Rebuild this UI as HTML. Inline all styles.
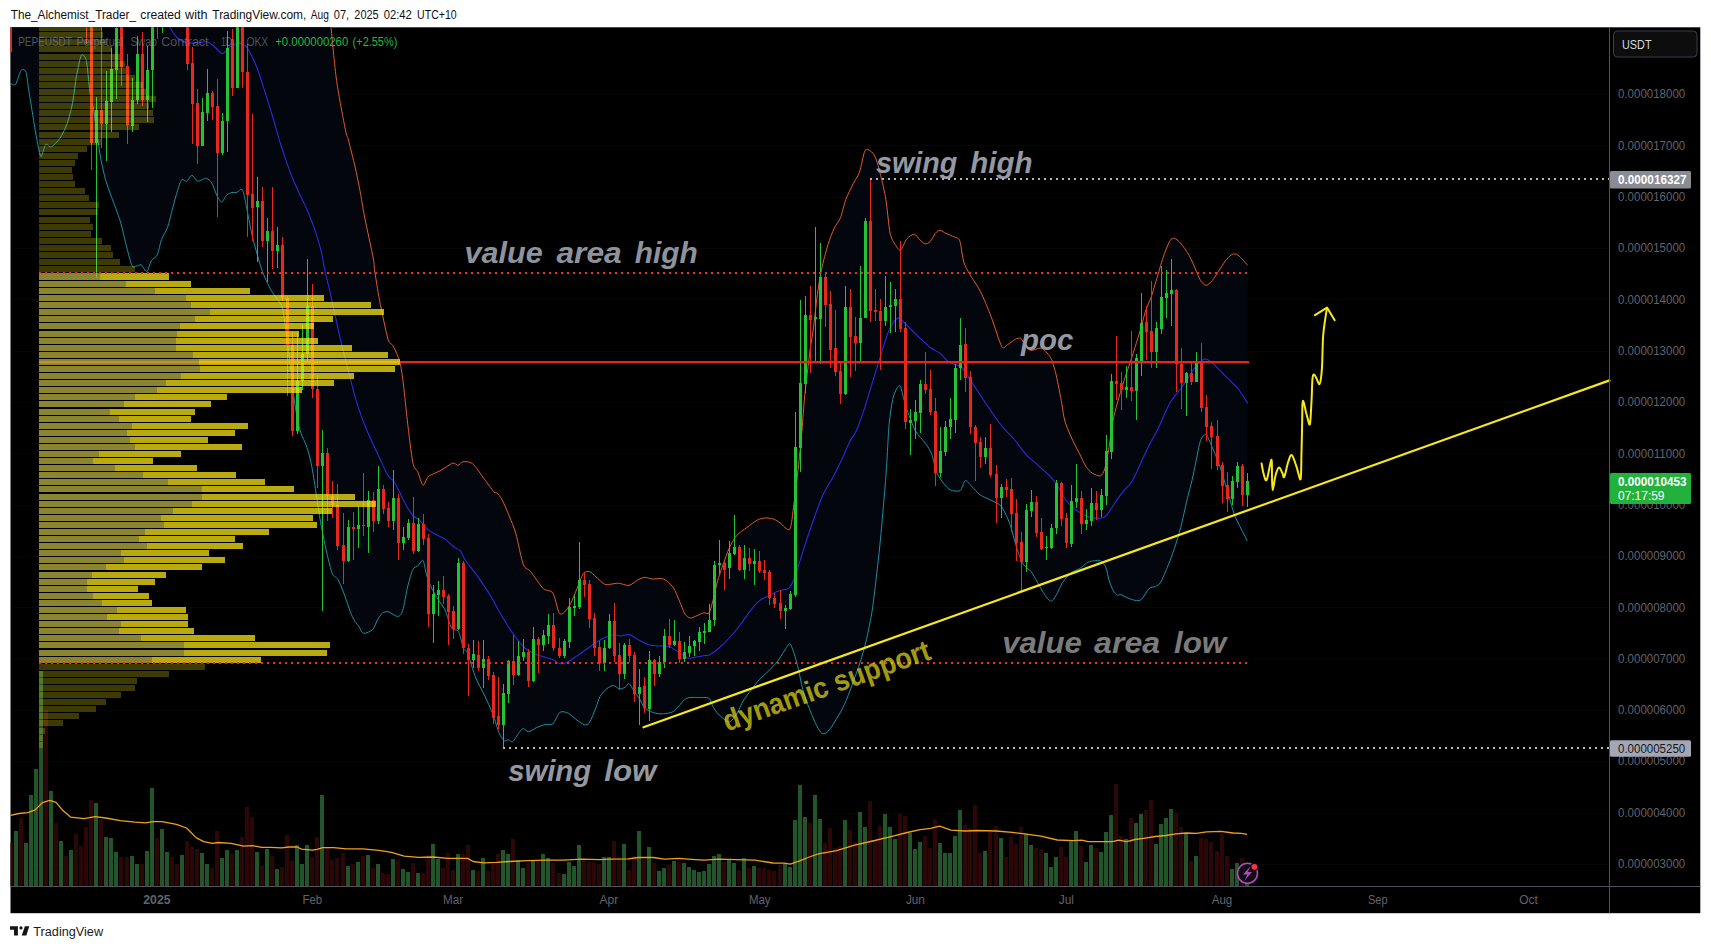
<!DOCTYPE html><html><head><meta charset="utf-8"><title>PEPEUSDT chart</title><style>html,body{margin:0;padding:0;background:#fff;overflow:hidden}body{width:1711px;height:949px}</style></head><body><svg width="1711" height="949" viewBox="0 0 1711 949" style="display:block;font-family:'Liberation Sans',sans-serif">
<rect width="1711" height="949" fill="#fff"/>
<rect x="10.5" y="27.3" width="1689.8" height="885.9000000000001" fill="#000"/>
<defs><clipPath id="pane"><rect x="10.5" y="27.3" width="1599.0" height="859.2"/></clipPath></defs>
<g clip-path="url(#pane)">
<rect x="10.5" y="94" width="1599.0" height="1" fill="#fff" opacity="0.022"/>
<rect x="10.5" y="145" width="1599.0" height="1" fill="#fff" opacity="0.022"/>
<rect x="10.5" y="197" width="1599.0" height="1" fill="#fff" opacity="0.022"/>
<rect x="10.5" y="248" width="1599.0" height="1" fill="#fff" opacity="0.022"/>
<rect x="10.5" y="299" width="1599.0" height="1" fill="#fff" opacity="0.022"/>
<rect x="10.5" y="351" width="1599.0" height="1" fill="#fff" opacity="0.022"/>
<rect x="10.5" y="402" width="1599.0" height="1" fill="#fff" opacity="0.022"/>
<rect x="10.5" y="453" width="1599.0" height="1" fill="#fff" opacity="0.022"/>
<rect x="10.5" y="505" width="1599.0" height="1" fill="#fff" opacity="0.022"/>
<rect x="10.5" y="556" width="1599.0" height="1" fill="#fff" opacity="0.022"/>
<rect x="10.5" y="607" width="1599.0" height="1" fill="#fff" opacity="0.022"/>
<rect x="10.5" y="659" width="1599.0" height="1" fill="#fff" opacity="0.022"/>
<rect x="10.5" y="710" width="1599.0" height="1" fill="#fff" opacity="0.022"/>
<rect x="10.5" y="761" width="1599.0" height="1" fill="#fff" opacity="0.022"/>
<rect x="10.5" y="813" width="1599.0" height="1" fill="#fff" opacity="0.022"/>
<rect x="10.5" y="864" width="1599.0" height="1" fill="#fff" opacity="0.022"/>
<g shape-rendering="crispEdges">
<rect x="9" y="843" width="4" height="43" fill="#2c0707"/>
<rect x="14" y="831" width="4" height="55" fill="#22552a"/>
<rect x="19" y="818" width="4" height="68" fill="#2c0707"/>
<rect x="24" y="843" width="4" height="43" fill="#22552a"/>
<rect x="29" y="795" width="4" height="91" fill="#22552a"/>
<rect x="34" y="769" width="4" height="117" fill="#22552a"/>
<rect x="39" y="671" width="4" height="215" fill="#22552a"/>
<rect x="44" y="710" width="4" height="176" fill="#2c0707"/>
<rect x="49" y="791" width="4" height="95" fill="#22552a"/>
<rect x="54" y="823" width="4" height="63" fill="#2c0707"/>
<rect x="59" y="841" width="4" height="45" fill="#22552a"/>
<rect x="64" y="856" width="4" height="30" fill="#2c0707"/>
<rect x="69" y="850" width="4" height="36" fill="#22552a"/>
<rect x="74" y="834" width="4" height="52" fill="#2c0707"/>
<rect x="79" y="846" width="4" height="40" fill="#2c0707"/>
<rect x="84" y="827" width="4" height="59" fill="#2c0707"/>
<rect x="89" y="800" width="4" height="86" fill="#2c0707"/>
<rect x="94" y="803" width="4" height="83" fill="#22552a"/>
<rect x="99" y="819" width="4" height="67" fill="#2c0707"/>
<rect x="104" y="837" width="4" height="49" fill="#22552a"/>
<rect x="109" y="838" width="4" height="48" fill="#22552a"/>
<rect x="114" y="852" width="4" height="34" fill="#22552a"/>
<rect x="119" y="857" width="4" height="29" fill="#2c0707"/>
<rect x="125" y="857" width="4" height="29" fill="#2c0707"/>
<rect x="130" y="856" width="4" height="30" fill="#22552a"/>
<rect x="135" y="864" width="4" height="22" fill="#22552a"/>
<rect x="140" y="864" width="4" height="22" fill="#2c0707"/>
<rect x="145" y="851" width="4" height="35" fill="#22552a"/>
<rect x="150" y="788" width="4" height="98" fill="#22552a"/>
<rect x="155" y="838" width="4" height="48" fill="#2c0707"/>
<rect x="160" y="829" width="4" height="57" fill="#22552a"/>
<rect x="165" y="852" width="4" height="34" fill="#22552a"/>
<rect x="170" y="857" width="4" height="29" fill="#2c0707"/>
<rect x="175" y="864" width="4" height="22" fill="#2c0707"/>
<rect x="180" y="855" width="4" height="31" fill="#22552a"/>
<rect x="185" y="841" width="4" height="45" fill="#2c0707"/>
<rect x="190" y="847" width="4" height="39" fill="#2c0707"/>
<rect x="195" y="849" width="4" height="37" fill="#2c0707"/>
<rect x="200" y="853" width="4" height="33" fill="#22552a"/>
<rect x="205" y="864" width="4" height="22" fill="#22552a"/>
<rect x="210" y="868" width="4" height="18" fill="#2c0707"/>
<rect x="215" y="831" width="4" height="55" fill="#2c0707"/>
<rect x="220" y="858" width="4" height="28" fill="#22552a"/>
<rect x="225" y="850" width="4" height="36" fill="#22552a"/>
<rect x="230" y="854" width="4" height="32" fill="#2c0707"/>
<rect x="235" y="850" width="4" height="36" fill="#22552a"/>
<rect x="240" y="837" width="4" height="49" fill="#2c0707"/>
<rect x="245" y="807" width="4" height="79" fill="#2c0707"/>
<rect x="250" y="817" width="4" height="69" fill="#2c0707"/>
<rect x="255" y="852" width="4" height="34" fill="#22552a"/>
<rect x="260" y="866" width="4" height="20" fill="#2c0707"/>
<rect x="265" y="849" width="4" height="37" fill="#22552a"/>
<rect x="270" y="856" width="4" height="30" fill="#2c0707"/>
<rect x="275" y="869" width="4" height="17" fill="#22552a"/>
<rect x="280" y="867" width="4" height="19" fill="#2c0707"/>
<rect x="285" y="835" width="4" height="51" fill="#2c0707"/>
<rect x="290" y="861" width="4" height="25" fill="#2c0707"/>
<rect x="295" y="845" width="4" height="41" fill="#22552a"/>
<rect x="300" y="864" width="4" height="22" fill="#22552a"/>
<rect x="305" y="845" width="4" height="41" fill="#22552a"/>
<rect x="310" y="857" width="4" height="29" fill="#2c0707"/>
<rect x="315" y="837" width="4" height="49" fill="#2c0707"/>
<rect x="320" y="795" width="4" height="91" fill="#22552a"/>
<rect x="325" y="848" width="4" height="38" fill="#2c0707"/>
<rect x="330" y="860" width="4" height="26" fill="#2c0707"/>
<rect x="335" y="858" width="4" height="28" fill="#2c0707"/>
<rect x="341" y="853" width="4" height="33" fill="#2c0707"/>
<rect x="346" y="866" width="4" height="20" fill="#22552a"/>
<rect x="351" y="864" width="4" height="22" fill="#2c0707"/>
<rect x="356" y="862" width="4" height="24" fill="#22552a"/>
<rect x="361" y="856" width="4" height="30" fill="#2c0707"/>
<rect x="366" y="855" width="4" height="31" fill="#22552a"/>
<rect x="371" y="868" width="4" height="18" fill="#2c0707"/>
<rect x="376" y="864" width="4" height="22" fill="#22552a"/>
<rect x="381" y="873" width="4" height="13" fill="#2c0707"/>
<rect x="386" y="874" width="4" height="12" fill="#2c0707"/>
<rect x="391" y="859" width="4" height="27" fill="#22552a"/>
<rect x="396" y="860" width="4" height="26" fill="#2c0707"/>
<rect x="401" y="869" width="4" height="17" fill="#22552a"/>
<rect x="406" y="872" width="4" height="14" fill="#22552a"/>
<rect x="411" y="863" width="4" height="23" fill="#2c0707"/>
<rect x="416" y="873" width="4" height="13" fill="#22552a"/>
<rect x="421" y="873" width="4" height="13" fill="#2c0707"/>
<rect x="426" y="855" width="4" height="31" fill="#2c0707"/>
<rect x="431" y="844" width="4" height="42" fill="#22552a"/>
<rect x="436" y="859" width="4" height="27" fill="#22552a"/>
<rect x="441" y="868" width="4" height="18" fill="#2c0707"/>
<rect x="446" y="853" width="4" height="33" fill="#2c0707"/>
<rect x="451" y="870" width="4" height="16" fill="#2c0707"/>
<rect x="456" y="854" width="4" height="32" fill="#22552a"/>
<rect x="461" y="854" width="4" height="32" fill="#2c0707"/>
<rect x="466" y="845" width="4" height="41" fill="#2c0707"/>
<rect x="471" y="870" width="4" height="16" fill="#22552a"/>
<rect x="476" y="871" width="4" height="15" fill="#2c0707"/>
<rect x="481" y="858" width="4" height="28" fill="#22552a"/>
<rect x="486" y="871" width="4" height="15" fill="#2c0707"/>
<rect x="491" y="864" width="4" height="22" fill="#2c0707"/>
<rect x="496" y="854" width="4" height="32" fill="#2c0707"/>
<rect x="501" y="850" width="4" height="36" fill="#22552a"/>
<rect x="506" y="854" width="4" height="32" fill="#22552a"/>
<rect x="511" y="839" width="4" height="47" fill="#2c0707"/>
<rect x="516" y="860" width="4" height="26" fill="#22552a"/>
<rect x="521" y="868" width="4" height="18" fill="#22552a"/>
<rect x="526" y="863" width="4" height="23" fill="#2c0707"/>
<rect x="531" y="861" width="4" height="25" fill="#22552a"/>
<rect x="536" y="860" width="4" height="26" fill="#2c0707"/>
<rect x="541" y="854" width="4" height="32" fill="#22552a"/>
<rect x="546" y="858" width="4" height="28" fill="#22552a"/>
<rect x="551" y="863" width="4" height="23" fill="#2c0707"/>
<rect x="557" y="873" width="4" height="13" fill="#2c0707"/>
<rect x="562" y="874" width="4" height="12" fill="#22552a"/>
<rect x="567" y="862" width="4" height="24" fill="#22552a"/>
<rect x="572" y="866" width="4" height="20" fill="#22552a"/>
<rect x="577" y="845" width="4" height="41" fill="#22552a"/>
<rect x="582" y="860" width="4" height="26" fill="#2c0707"/>
<rect x="587" y="861" width="4" height="25" fill="#2c0707"/>
<rect x="592" y="862" width="4" height="24" fill="#2c0707"/>
<rect x="597" y="864" width="4" height="22" fill="#2c0707"/>
<rect x="602" y="857" width="4" height="29" fill="#22552a"/>
<rect x="607" y="857" width="4" height="29" fill="#22552a"/>
<rect x="612" y="841" width="4" height="45" fill="#2c0707"/>
<rect x="617" y="857" width="4" height="29" fill="#2c0707"/>
<rect x="622" y="844" width="4" height="42" fill="#22552a"/>
<rect x="627" y="870" width="4" height="16" fill="#2c0707"/>
<rect x="632" y="856" width="4" height="30" fill="#2c0707"/>
<rect x="637" y="831" width="4" height="55" fill="#22552a"/>
<rect x="642" y="859" width="4" height="27" fill="#2c0707"/>
<rect x="647" y="847" width="4" height="39" fill="#22552a"/>
<rect x="652" y="863" width="4" height="23" fill="#2c0707"/>
<rect x="657" y="871" width="4" height="15" fill="#22552a"/>
<rect x="662" y="868" width="4" height="18" fill="#22552a"/>
<rect x="667" y="865" width="4" height="21" fill="#2c0707"/>
<rect x="672" y="861" width="4" height="25" fill="#22552a"/>
<rect x="677" y="862" width="4" height="24" fill="#2c0707"/>
<rect x="682" y="863" width="4" height="23" fill="#22552a"/>
<rect x="687" y="867" width="4" height="19" fill="#22552a"/>
<rect x="692" y="870" width="4" height="16" fill="#22552a"/>
<rect x="697" y="872" width="4" height="14" fill="#22552a"/>
<rect x="702" y="871" width="4" height="15" fill="#22552a"/>
<rect x="707" y="864" width="4" height="22" fill="#22552a"/>
<rect x="712" y="856" width="4" height="30" fill="#22552a"/>
<rect x="717" y="854" width="4" height="32" fill="#22552a"/>
<rect x="722" y="862" width="4" height="24" fill="#2c0707"/>
<rect x="727" y="860" width="4" height="26" fill="#22552a"/>
<rect x="732" y="863" width="4" height="23" fill="#22552a"/>
<rect x="737" y="870" width="4" height="16" fill="#2c0707"/>
<rect x="742" y="858" width="4" height="28" fill="#22552a"/>
<rect x="747" y="868" width="4" height="18" fill="#2c0707"/>
<rect x="752" y="866" width="4" height="20" fill="#22552a"/>
<rect x="757" y="868" width="4" height="18" fill="#2c0707"/>
<rect x="762" y="868" width="4" height="18" fill="#2c0707"/>
<rect x="767" y="870" width="4" height="16" fill="#2c0707"/>
<rect x="772" y="871" width="4" height="15" fill="#2c0707"/>
<rect x="778" y="865" width="4" height="21" fill="#2c0707"/>
<rect x="783" y="864" width="4" height="22" fill="#22552a"/>
<rect x="788" y="867" width="4" height="19" fill="#22552a"/>
<rect x="793" y="820" width="4" height="66" fill="#22552a"/>
<rect x="798" y="785" width="4" height="101" fill="#22552a"/>
<rect x="803" y="817" width="4" height="69" fill="#22552a"/>
<rect x="808" y="823" width="4" height="63" fill="#2c0707"/>
<rect x="813" y="795" width="4" height="91" fill="#22552a"/>
<rect x="818" y="819" width="4" height="67" fill="#22552a"/>
<rect x="823" y="843" width="4" height="43" fill="#2c0707"/>
<rect x="828" y="828" width="4" height="58" fill="#2c0707"/>
<rect x="833" y="848" width="4" height="38" fill="#2c0707"/>
<rect x="838" y="846" width="4" height="40" fill="#2c0707"/>
<rect x="843" y="820" width="4" height="66" fill="#22552a"/>
<rect x="848" y="830" width="4" height="56" fill="#2c0707"/>
<rect x="853" y="842" width="4" height="44" fill="#2c0707"/>
<rect x="858" y="812" width="4" height="74" fill="#22552a"/>
<rect x="863" y="827" width="4" height="59" fill="#22552a"/>
<rect x="868" y="801" width="4" height="85" fill="#2c0707"/>
<rect x="873" y="841" width="4" height="45" fill="#2c0707"/>
<rect x="878" y="826" width="4" height="60" fill="#2c0707"/>
<rect x="883" y="814" width="4" height="72" fill="#22552a"/>
<rect x="888" y="827" width="4" height="59" fill="#22552a"/>
<rect x="893" y="839" width="4" height="47" fill="#22552a"/>
<rect x="898" y="814" width="4" height="72" fill="#2c0707"/>
<rect x="903" y="816" width="4" height="70" fill="#2c0707"/>
<rect x="908" y="833" width="4" height="53" fill="#22552a"/>
<rect x="913" y="849" width="4" height="37" fill="#22552a"/>
<rect x="918" y="842" width="4" height="44" fill="#22552a"/>
<rect x="923" y="836" width="4" height="50" fill="#2c0707"/>
<rect x="928" y="848" width="4" height="38" fill="#2c0707"/>
<rect x="933" y="819" width="4" height="67" fill="#2c0707"/>
<rect x="938" y="843" width="4" height="43" fill="#22552a"/>
<rect x="943" y="853" width="4" height="33" fill="#22552a"/>
<rect x="948" y="853" width="4" height="33" fill="#22552a"/>
<rect x="953" y="836" width="4" height="50" fill="#22552a"/>
<rect x="958" y="810" width="4" height="76" fill="#22552a"/>
<rect x="963" y="825" width="4" height="61" fill="#2c0707"/>
<rect x="968" y="828" width="4" height="58" fill="#2c0707"/>
<rect x="973" y="805" width="4" height="81" fill="#2c0707"/>
<rect x="978" y="853" width="4" height="33" fill="#2c0707"/>
<rect x="983" y="851" width="4" height="35" fill="#22552a"/>
<rect x="988" y="832" width="4" height="54" fill="#2c0707"/>
<rect x="994" y="826" width="4" height="60" fill="#2c0707"/>
<rect x="999" y="838" width="4" height="48" fill="#22552a"/>
<rect x="1004" y="857" width="4" height="29" fill="#2c0707"/>
<rect x="1009" y="837" width="4" height="49" fill="#2c0707"/>
<rect x="1014" y="844" width="4" height="42" fill="#2c0707"/>
<rect x="1019" y="827" width="4" height="59" fill="#2c0707"/>
<rect x="1024" y="834" width="4" height="52" fill="#22552a"/>
<rect x="1029" y="845" width="4" height="41" fill="#22552a"/>
<rect x="1034" y="848" width="4" height="38" fill="#2c0707"/>
<rect x="1039" y="849" width="4" height="37" fill="#2c0707"/>
<rect x="1044" y="853" width="4" height="33" fill="#22552a"/>
<rect x="1049" y="867" width="4" height="19" fill="#22552a"/>
<rect x="1054" y="857" width="4" height="29" fill="#22552a"/>
<rect x="1059" y="847" width="4" height="39" fill="#2c0707"/>
<rect x="1064" y="857" width="4" height="29" fill="#2c0707"/>
<rect x="1069" y="841" width="4" height="45" fill="#22552a"/>
<rect x="1074" y="831" width="4" height="55" fill="#22552a"/>
<rect x="1079" y="846" width="4" height="40" fill="#2c0707"/>
<rect x="1084" y="862" width="4" height="24" fill="#22552a"/>
<rect x="1089" y="845" width="4" height="41" fill="#22552a"/>
<rect x="1094" y="848" width="4" height="38" fill="#2c0707"/>
<rect x="1099" y="852" width="4" height="34" fill="#22552a"/>
<rect x="1104" y="832" width="4" height="54" fill="#22552a"/>
<rect x="1109" y="815" width="4" height="71" fill="#22552a"/>
<rect x="1114" y="784" width="4" height="102" fill="#2c0707"/>
<rect x="1119" y="836" width="4" height="50" fill="#2c0707"/>
<rect x="1124" y="839" width="4" height="47" fill="#22552a"/>
<rect x="1129" y="818" width="4" height="68" fill="#2c0707"/>
<rect x="1134" y="823" width="4" height="63" fill="#22552a"/>
<rect x="1139" y="814" width="4" height="72" fill="#22552a"/>
<rect x="1144" y="810" width="4" height="76" fill="#2c0707"/>
<rect x="1149" y="800" width="4" height="86" fill="#2c0707"/>
<rect x="1154" y="844" width="4" height="42" fill="#22552a"/>
<rect x="1159" y="824" width="4" height="62" fill="#22552a"/>
<rect x="1164" y="818" width="4" height="68" fill="#22552a"/>
<rect x="1169" y="809" width="4" height="77" fill="#22552a"/>
<rect x="1174" y="813" width="4" height="73" fill="#2c0707"/>
<rect x="1179" y="827" width="4" height="59" fill="#2c0707"/>
<rect x="1184" y="833" width="4" height="53" fill="#22552a"/>
<rect x="1189" y="861" width="4" height="25" fill="#2c0707"/>
<rect x="1194" y="856" width="4" height="30" fill="#22552a"/>
<rect x="1199" y="838" width="4" height="48" fill="#2c0707"/>
<rect x="1204" y="839" width="4" height="47" fill="#2c0707"/>
<rect x="1209" y="842" width="4" height="44" fill="#2c0707"/>
<rect x="1215" y="851" width="4" height="35" fill="#2c0707"/>
<rect x="1220" y="834" width="4" height="52" fill="#2c0707"/>
<rect x="1225" y="856" width="4" height="30" fill="#2c0707"/>
<rect x="1230" y="869" width="4" height="17" fill="#22552a"/>
<rect x="1235" y="863" width="4" height="23" fill="#22552a"/>
<rect x="1240" y="858" width="4" height="28" fill="#2c0707"/>
<rect x="1245" y="882" width="4" height="4" fill="#22552a"/>
</g>
<polyline points="10.7,815.3 18.9,813.5 27.9,812.6 35.2,809.9 42.4,802.6 49.7,800.4 56.0,802.3 62.4,809.9 70.5,817.1 84.1,818.6 95.0,816.7 105.8,818.0 120.3,820.7 134.8,822.2 145.7,822.9 153.0,821.6 162.0,821.6 176.5,824.4 186.5,828.0 196.4,837.9 203.7,841.6 212.7,843.4 218.2,842.5 230.9,843.4 243.6,846.1 252.6,845.7 261.7,847.4 270.7,847.4 281.6,847.9 288.8,847.0 297.0,847.0 301.5,849.2 312.4,850.1 317.2,849.4 322.7,847.6 333.6,847.6 346.2,848.8 362.5,848.8 378.9,850.3 391.5,852.4 404.2,856.1 418.7,857.3 433.2,857.0 447.7,858.4 467.6,858.4 473.1,861.5 483.9,862.8 496.6,862.4 509.3,861.5 527.4,860.6 545.5,860.1 563.7,860.1 581.8,859.1 599.9,859.7 610.0,859.1 628.1,858.8 639.0,857.5 653.5,857.5 664.4,859.1 678.9,858.4 691.5,859.3 704.2,860.1 718.7,859.1 736.8,859.7 755.0,860.1 773.1,863.0 783.9,863.1 790.3,864.2 800.3,860.6 809.3,857.0 818.4,853.9 836.5,850.6 854.6,845.2 872.7,841.0 890.9,836.7 907.2,832.5 920.2,829.7 930.5,828.3 939.7,826.2 950.9,830.1 965.2,831.0 977.5,830.5 995.9,831.0 1012.3,832.4 1024.5,833.8 1040.9,836.1 1057.3,840.0 1073.6,840.6 1081.8,840.2 1088.0,841.6 1102.3,841.6 1112.5,841.6 1118.6,840.2 1126.8,841.6 1135.0,839.5 1145.2,838.1 1155.4,836.5 1165.7,835.5 1175.9,833.8 1186.1,833.0 1196.4,833.4 1206.6,831.8 1220.9,831.4 1233.2,833.0 1241.4,833.4 1247.1,834.4" fill="none" stroke="#f0a01e" stroke-width="1.3" stroke-linejoin="round"/>
<polygon points="10.5,20.0 331.0,20.0 331.0,27.0 336.6,80.6 345.4,129.7 348.4,140.0 355.1,167.0 360.0,190.6 364.6,217.0 373.4,259.0 374.6,270.0 379.6,300.4 388.0,339.1 393.1,345.9 399.8,361.9 403.5,385.0 407.4,421.0 412.8,462.3 418.0,472.5 423.0,485.3 428.5,476.4 440.0,470.8 452.7,463.2 458.0,465.3 463.2,461.7 472.7,463.8 484.3,479.0 493.8,491.7 498.0,493.8 503.3,502.2 509.6,516.9 515.9,533.8 523.3,564.4 530.7,571.7 543.3,588.6 552.8,592.8 559.1,612.8 564.4,612.2 570.7,603.4 577.0,588.6 583.3,573.7 589.6,571.6 596.0,576.9 604.4,584.2 610.0,584.3 618.4,583.2 629.0,585.4 637.4,580.1 644.8,577.3 652.1,579.0 663.7,579.0 673.2,587.5 679.5,601.2 684.8,613.8 690.1,618.0 696.4,615.9 703.8,612.8 709.1,612.8 713.3,599.1 717.5,581.1 722.8,565.3 729.1,548.5 736.4,535.8 747.0,527.4 757.5,520.0 765.9,517.9 774.4,519.4 780.0,522.8 789.7,529.3 793.9,504.2 798.6,464.8 802.0,430.0 804.8,394.9 810.0,350.6 813.2,330.0 817.4,294.4 821.6,269.1 827.9,244.9 834.3,228.0 840.6,217.5 845.8,199.5 853.2,183.7 859.5,172.1 864.8,151.1 870.1,150.7 875.4,157.4 880.6,175.3 885.9,199.5 890.1,233.3 895.4,244.9 900.6,250.1 907.0,238.5 914.3,234.3 919.6,239.6 924.9,243.8 930.1,241.7 935.4,233.3 940.1,230.3 946.0,233.3 954.4,237.1 959.7,240.6 963.8,262.1 970.1,274.8 980.6,291.7 991.2,316.9 1001.7,346.4 1007.6,344.6 1015.2,339.3 1020.5,338.2 1023.6,342.4 1030.4,350.3 1041.0,348.0 1047.1,353.0 1051.7,359.8 1056.4,376.0 1061.8,403.4 1064.6,420.0 1071.1,436.9 1079.5,453.7 1085.9,466.4 1092.2,473.1 1100.6,475.8 1104.8,468.5 1109.0,447.4 1112.7,422.0 1117.4,402.8 1123.7,381.7 1132.1,356.4 1140.6,329.1 1145.8,310.1 1151.1,297.4 1157.4,276.4 1163.8,255.3 1170.1,240.5 1174.3,238.4 1180.6,243.1 1189.1,255.3 1195.4,269.0 1200.6,280.6 1205.9,285.4 1212.2,280.6 1218.6,271.1 1224.9,261.6 1231.2,254.9 1236.5,254.2 1241.7,258.5 1247.6,265.4 1247.3,541.0 1241.7,530.0 1234.6,515.0 1228.0,493.0 1221.1,470.0 1215.8,455.9 1209.5,441.1 1205.8,434.3 1200.5,440.6 1195.8,462.2 1192.1,480.0 1187.0,500.1 1180.7,527.5 1174.4,548.6 1168.1,565.4 1160.7,582.3 1155.4,586.5 1149.1,588.6 1141.7,599.1 1136.4,600.6 1128.0,598.1 1120.6,594.5 1117.5,595.3 1113.3,590.7 1109.0,580.2 1105.9,567.5 1100.6,560.8 1094.3,560.8 1088.0,562.3 1079.5,568.6 1071.1,572.8 1062.7,582.3 1056.4,594.9 1051.1,601.2 1044.8,594.9 1037.4,582.3 1031.1,571.7 1022.6,563.3 1016.3,546.4 1009.6,523.3 1001.2,506.4 990.6,500.1 980.1,494.9 971.7,486.4 965.3,480.5 960.1,490.6 950.6,490.0 944.3,484.3 936.9,472.7 931.6,453.8 925.3,443.2 915.8,431.6 908.4,413.7 903.8,399.1 899.6,385.4 893.3,397.0 889.1,424.4 887.0,460.0 884.4,495.0 879.8,546.0 872.8,606.3 868.5,630.0 864.3,648.2 858.7,666.5 851.7,686.1 844.6,704.3 837.6,717.0 830.6,728.2 825.0,733.5 820.8,732.4 815.2,722.6 808.2,705.7 802.6,688.9 798.4,669.3 794.2,653.8 789.7,643.7 784.3,651.0 777.3,661.6 768.9,670.7 759.1,679.8 752.1,688.9 743.7,700.1 736.6,714.2 729.6,721.9 724.0,719.1 717.0,712.7 712.1,704.9 708.7,698.1 697.8,697.6 689.3,697.6 684.3,699.8 679.2,705.7 673.3,711.6 667.4,713.3 659.0,713.8 650.6,711.6 644.2,707.4 639.6,699.0 633.7,690.6 629.0,683.5 625.3,687.2 619.4,688.9 613.5,685.5 606.7,688.9 600.0,696.5 596.0,707.5 589.6,722.3 584.4,724.8 577.0,720.2 568.6,713.4 560.1,712.2 552.8,724.0 545.4,724.4 536.9,727.5 528.5,731.8 523.2,728.6 519.0,732.8 512.7,741.7 508.5,739.8 504.3,740.8 499.0,732.8 492.7,713.8 484.3,694.9 475.8,678.0 467.4,652.7 463.5,648.5 458.4,631.3 451.7,628.3 444.9,609.7 438.2,599.6 430.6,586.1 426.4,574.3 423.0,560.5 417.9,565.9 412.9,569.3 407.8,586.1 402.7,610.6 397.7,616.5 388.4,611.8 382.5,613.1 377.5,619.8 372.7,629.6 363.6,633.3 358.9,626.6 352.2,616.5 343.7,592.9 337.8,579.4 331.9,572.6 325.2,545.6 320.5,521.7 316.3,494.7 312.0,467.7 307.0,447.5 300.2,430.6 294.3,400.2 290.2,364.4 286.9,337.5 282.6,308.8 277.6,299.4 272.5,292.6 267.5,283.3 262.4,271.5 257.3,254.7 252.3,236.1 247.2,210.8 244.2,195.6 241.8,189.2 237.1,192.3 232.0,192.6 227.0,194.8 221.6,202.0 216.9,195.6 211.8,183.0 206.7,178.4 202.8,179.4 197.4,181.1 191.8,175.2 186.8,181.4 181.7,179.7 177.5,190.7 172.4,209.3 167.4,227.8 161.5,239.6 157.3,254.8 151.4,260.7 146.8,271.7 141.2,264.9 136.2,266.3 132.0,265.8 126.9,248.0 120.2,221.0 111.7,197.5 105.8,180.6 100.8,158.7 97.4,137.0 93.6,109.2 90.2,94.1 88.8,81.8 86.1,59.9 81.3,55.4 76.5,76.3 72.4,103.7 66.9,124.3 60.0,138.2 51.2,146.9 45.7,144.5 40.9,156.5 36.8,139.3 32.7,114.7 28.5,88.6 25.8,71.5 21.0,70.6 15.5,84.5 10.5,83.2" fill="#03070d"/>
<path d="M331.0 27.0C331.7 34.1 334.7 66.9 336.6 80.6C338.5 94.3 343.8 121.8 345.4 129.7C347.0 137.6 347.1 135.0 348.4 140.0C349.7 145.0 353.6 160.3 355.1 167.0C356.6 173.7 358.7 183.9 360.0 190.6C361.3 197.3 362.8 207.9 364.6 217.0C366.4 226.1 372.1 251.9 373.4 259.0C374.7 266.1 373.8 264.5 374.6 270.0C375.4 275.5 377.8 291.2 379.6 300.4C381.4 309.6 386.2 333.0 388.0 339.1C389.8 345.2 391.5 342.9 393.1 345.9C394.7 348.9 398.4 356.7 399.8 361.9C401.2 367.1 402.5 377.1 403.5 385.0C404.5 392.9 406.2 410.7 407.4 421.0C408.6 431.3 411.4 455.4 412.8 462.3C414.2 469.2 416.6 469.4 418.0 472.5C419.4 475.6 421.6 484.8 423.0 485.3C424.4 485.8 426.2 478.3 428.5 476.4C430.8 474.5 436.8 472.6 440.0 470.8C443.2 469.0 450.3 463.9 452.7 463.2C455.1 462.5 456.6 465.5 458.0 465.3C459.4 465.1 461.2 461.9 463.2 461.7C465.2 461.5 469.9 461.5 472.7 463.8C475.5 466.1 481.5 475.3 484.3 479.0C487.1 482.7 492.0 489.7 493.8 491.7C495.6 493.7 496.7 492.4 498.0 493.8C499.3 495.2 501.8 499.1 503.3 502.2C504.8 505.3 507.9 512.7 509.6 516.9C511.3 521.1 514.1 527.5 515.9 533.8C517.7 540.1 521.3 559.3 523.3 564.4C525.3 569.5 528.0 568.5 530.7 571.7C533.4 574.9 540.4 585.8 543.3 588.6C546.2 591.4 550.7 589.6 552.8 592.8C554.9 596.0 557.6 610.2 559.1 612.8C560.6 615.4 562.9 613.5 564.4 612.2C565.9 610.9 569.0 606.5 570.7 603.4C572.4 600.3 575.3 592.6 577.0 588.6C578.7 584.6 581.6 576.0 583.3 573.7C585.0 571.4 587.9 571.2 589.6 571.6C591.3 572.0 594.0 575.2 596.0 576.9C598.0 578.6 602.5 583.2 604.4 584.2C606.3 585.2 608.1 584.4 610.0 584.3C611.9 584.2 615.9 583.1 618.4 583.2C620.9 583.3 626.5 585.8 629.0 585.4C631.5 585.0 635.3 581.2 637.4 580.1C639.5 579.0 642.8 577.4 644.8 577.3C646.8 577.2 649.6 578.8 652.1 579.0C654.6 579.2 660.9 577.9 663.7 579.0C666.5 580.1 671.1 584.5 673.2 587.5C675.3 590.5 678.0 597.7 679.5 601.2C681.0 604.7 683.4 611.6 684.8 613.8C686.2 616.0 688.6 617.7 690.1 618.0C691.6 618.3 694.6 616.6 696.4 615.9C698.2 615.2 702.1 613.2 703.8 612.8C705.5 612.4 707.8 614.6 709.1 612.8C710.4 611.0 712.2 603.3 713.3 599.1C714.4 594.9 716.2 585.6 717.5 581.1C718.8 576.6 721.3 569.6 722.8 565.3C724.3 561.0 727.3 552.4 729.1 548.5C730.9 544.6 734.0 538.6 736.4 535.8C738.8 533.0 744.2 529.5 747.0 527.4C749.8 525.3 755.0 521.3 757.5 520.0C760.0 518.7 763.6 518.0 765.9 517.9C768.2 517.8 772.5 518.7 774.4 519.4C776.3 520.1 778.0 521.5 780.0 522.8C782.0 524.1 787.8 531.8 789.7 529.3C791.6 526.8 792.7 512.8 793.9 504.2C795.1 495.6 797.5 474.7 798.6 464.8C799.7 454.9 801.2 439.3 802.0 430.0C802.8 420.7 803.7 405.5 804.8 394.9C805.9 384.3 808.9 359.3 810.0 350.6C811.1 341.9 812.2 337.5 813.2 330.0C814.2 322.5 816.3 302.5 817.4 294.4C818.5 286.3 820.2 275.7 821.6 269.1C823.0 262.5 826.2 250.4 827.9 244.9C829.6 239.4 832.6 231.7 834.3 228.0C836.0 224.3 839.1 221.3 840.6 217.5C842.1 213.7 844.1 204.0 845.8 199.5C847.5 195.0 851.4 187.4 853.2 183.7C855.0 180.0 858.0 176.4 859.5 172.1C861.0 167.8 863.4 154.0 864.8 151.1C866.2 148.2 868.7 149.9 870.1 150.7C871.5 151.5 874.0 154.1 875.4 157.4C876.8 160.7 879.2 169.7 880.6 175.3C882.0 180.9 884.6 191.8 885.9 199.5C887.2 207.2 888.8 227.2 890.1 233.3C891.4 239.4 894.0 242.7 895.4 244.9C896.8 247.1 899.1 251.0 900.6 250.1C902.1 249.2 905.2 240.6 907.0 238.5C908.8 236.4 912.6 234.2 914.3 234.3C916.0 234.4 918.2 238.3 919.6 239.6C921.0 240.9 923.5 243.5 924.9 243.8C926.3 244.1 928.7 243.1 930.1 241.7C931.5 240.3 934.1 234.8 935.4 233.3C936.7 231.8 938.7 230.3 940.1 230.3C941.5 230.3 944.1 232.4 946.0 233.3C947.9 234.2 952.6 236.1 954.4 237.1C956.2 238.1 958.4 237.3 959.7 240.6C961.0 243.9 962.4 257.5 963.8 262.1C965.2 266.7 967.9 270.9 970.1 274.8C972.3 278.7 977.8 286.1 980.6 291.7C983.4 297.3 988.4 309.6 991.2 316.9C994.0 324.2 999.5 342.7 1001.7 346.4C1003.9 350.1 1005.8 345.5 1007.6 344.6C1009.4 343.7 1013.5 340.2 1015.2 339.3C1016.9 338.4 1019.4 337.8 1020.5 338.2C1021.6 338.6 1022.3 340.8 1023.6 342.4C1024.9 344.0 1028.1 349.6 1030.4 350.3C1032.7 351.0 1038.8 347.6 1041.0 348.0C1043.2 348.4 1045.7 351.4 1047.1 353.0C1048.5 354.6 1050.5 356.7 1051.7 359.8C1052.9 362.9 1055.1 370.2 1056.4 376.0C1057.7 381.8 1060.7 397.5 1061.8 403.4C1062.9 409.3 1063.4 415.5 1064.6 420.0C1065.8 424.5 1069.1 432.4 1071.1 436.9C1073.1 441.4 1077.5 449.8 1079.5 453.7C1081.5 457.6 1084.2 463.8 1085.9 466.4C1087.6 469.0 1090.2 471.8 1092.2 473.1C1094.2 474.4 1098.9 476.4 1100.6 475.8C1102.3 475.2 1103.7 472.3 1104.8 468.5C1105.9 464.7 1107.9 453.6 1109.0 447.4C1110.1 441.2 1111.6 427.9 1112.7 422.0C1113.8 416.1 1115.9 408.2 1117.4 402.8C1118.9 397.4 1121.7 387.9 1123.7 381.7C1125.7 375.5 1129.8 363.4 1132.1 356.4C1134.4 349.4 1138.8 335.3 1140.6 329.1C1142.4 322.9 1144.4 314.3 1145.8 310.1C1147.2 305.9 1149.6 301.9 1151.1 297.4C1152.6 292.9 1155.7 282.0 1157.4 276.4C1159.1 270.8 1162.1 260.1 1163.8 255.3C1165.5 250.5 1168.7 242.8 1170.1 240.5C1171.5 238.2 1172.9 238.1 1174.3 238.4C1175.7 238.7 1178.6 240.8 1180.6 243.1C1182.6 245.4 1187.1 251.8 1189.1 255.3C1191.1 258.8 1193.9 265.6 1195.4 269.0C1196.9 272.4 1199.2 278.4 1200.6 280.6C1202.0 282.8 1204.4 285.4 1205.9 285.4C1207.4 285.4 1210.5 282.5 1212.2 280.6C1213.9 278.7 1216.9 273.6 1218.6 271.1C1220.3 268.6 1223.2 263.8 1224.9 261.6C1226.6 259.4 1229.7 255.9 1231.2 254.9C1232.7 253.9 1235.1 253.7 1236.5 254.2C1237.9 254.7 1240.2 257.0 1241.7 258.5C1243.2 260.0 1246.8 264.5 1247.6 265.4" fill="none" stroke="#e05a2b" stroke-width="1" stroke-linejoin="round"/>
<path d="M10.5 83.2C11.2 83.4 14.1 86.2 15.5 84.5C16.9 82.8 19.6 72.3 21.0 70.6C22.4 68.9 24.8 69.1 25.8 71.5C26.8 73.9 27.6 82.8 28.5 88.6C29.4 94.4 31.6 107.9 32.7 114.7C33.8 121.5 35.7 133.7 36.8 139.3C37.9 144.9 39.7 155.8 40.9 156.5C42.1 157.2 44.3 145.8 45.7 144.5C47.1 143.2 49.3 147.7 51.2 146.9C53.1 146.1 57.9 141.2 60.0 138.2C62.1 135.2 65.2 128.9 66.9 124.3C68.6 119.7 71.1 110.1 72.4 103.7C73.7 97.3 75.3 82.7 76.5 76.3C77.7 69.9 80.0 57.6 81.3 55.4C82.6 53.2 85.1 56.4 86.1 59.9C87.1 63.4 88.3 77.2 88.8 81.8C89.3 86.4 89.6 90.4 90.2 94.1C90.8 97.8 92.6 103.5 93.6 109.2C94.6 114.9 96.4 130.4 97.4 137.0C98.4 143.6 99.7 152.9 100.8 158.7C101.9 164.5 104.3 175.4 105.8 180.6C107.3 185.8 109.8 192.1 111.7 197.5C113.6 202.9 118.2 214.3 120.2 221.0C122.2 227.7 125.3 242.0 126.9 248.0C128.5 254.0 130.8 263.4 132.0 265.8C133.2 268.2 135.0 266.4 136.2 266.3C137.4 266.2 139.8 264.2 141.2 264.9C142.6 265.6 145.4 272.3 146.8 271.7C148.2 271.1 150.0 263.0 151.4 260.7C152.8 258.4 156.0 257.6 157.3 254.8C158.6 252.0 160.2 243.2 161.5 239.6C162.8 236.0 165.9 231.8 167.4 227.8C168.9 223.8 171.1 214.2 172.4 209.3C173.7 204.4 176.3 194.6 177.5 190.7C178.7 186.8 180.5 180.9 181.7 179.7C182.9 178.5 185.5 182.0 186.8 181.4C188.1 180.8 190.4 175.2 191.8 175.2C193.2 175.2 195.9 180.5 197.4 181.1C198.9 181.7 201.6 179.8 202.8 179.4C204.0 179.0 205.5 177.9 206.7 178.4C207.9 178.9 210.4 180.7 211.8 183.0C213.2 185.3 215.6 193.1 216.9 195.6C218.2 198.1 220.3 202.1 221.6 202.0C222.9 201.9 225.6 196.1 227.0 194.8C228.4 193.5 230.7 192.9 232.0 192.6C233.3 192.3 235.8 192.8 237.1 192.3C238.4 191.8 240.9 188.8 241.8 189.2C242.7 189.6 243.5 192.7 244.2 195.6C244.9 198.5 246.1 205.4 247.2 210.8C248.3 216.2 251.0 230.2 252.3 236.1C253.6 242.0 256.0 250.0 257.3 254.7C258.6 259.4 261.0 267.7 262.4 271.5C263.8 275.3 266.2 280.5 267.5 283.3C268.8 286.1 271.2 290.5 272.5 292.6C273.8 294.7 276.3 297.2 277.6 299.4C278.9 301.6 281.4 303.7 282.6 308.8C283.8 313.9 285.9 330.1 286.9 337.5C287.9 344.9 289.2 356.0 290.2 364.4C291.2 372.8 293.0 391.4 294.3 400.2C295.6 409.0 298.5 424.3 300.2 430.6C301.9 436.9 305.4 442.6 307.0 447.5C308.6 452.4 310.8 461.4 312.0 467.7C313.2 474.0 315.2 487.5 316.3 494.7C317.4 501.9 319.3 514.9 320.5 521.7C321.7 528.5 323.7 538.8 325.2 545.6C326.7 552.4 330.2 568.1 331.9 572.6C333.6 577.1 336.2 576.7 337.8 579.4C339.4 582.1 341.8 588.0 343.7 592.9C345.6 597.8 350.2 612.0 352.2 616.5C354.2 621.0 357.4 624.4 358.9 626.6C360.4 628.8 361.8 632.9 363.6 633.3C365.4 633.7 370.8 631.4 372.7 629.6C374.6 627.8 376.2 622.0 377.5 619.8C378.8 617.6 381.0 614.2 382.5 613.1C384.0 612.0 386.4 611.3 388.4 611.8C390.4 612.3 395.8 616.7 397.7 616.5C399.6 616.3 401.4 614.7 402.7 610.6C404.0 606.5 406.4 591.6 407.8 586.1C409.2 580.6 411.6 572.0 412.9 569.3C414.2 566.6 416.6 567.1 417.9 565.9C419.2 564.7 421.9 559.4 423.0 560.5C424.1 561.6 425.4 570.9 426.4 574.3C427.4 577.7 429.0 582.7 430.6 586.1C432.2 589.5 436.3 596.5 438.2 599.6C440.1 602.7 443.1 605.9 444.9 609.7C446.7 613.5 449.9 625.4 451.7 628.3C453.5 631.2 456.8 628.6 458.4 631.3C460.0 634.0 462.3 645.6 463.5 648.5C464.7 651.4 465.8 648.8 467.4 652.7C469.0 656.6 473.5 672.4 475.8 678.0C478.1 683.6 482.0 690.1 484.3 694.9C486.6 699.7 490.7 708.7 492.7 713.8C494.7 718.9 497.5 729.2 499.0 732.8C500.5 736.4 503.0 739.9 504.3 740.8C505.6 741.7 507.4 739.7 508.5 739.8C509.6 739.9 511.3 742.6 512.7 741.7C514.1 740.8 517.6 734.5 519.0 732.8C520.4 731.1 521.9 728.7 523.2 728.6C524.5 728.5 526.7 731.9 528.5 731.8C530.3 731.7 534.6 728.5 536.9 727.5C539.2 726.5 543.3 724.9 545.4 724.4C547.5 723.9 550.8 725.6 552.8 724.0C554.8 722.4 558.0 713.6 560.1 712.2C562.2 710.8 566.3 712.3 568.6 713.4C570.9 714.5 574.9 718.7 577.0 720.2C579.1 721.7 582.7 724.5 584.4 724.8C586.1 725.1 588.1 724.6 589.6 722.3C591.1 720.0 594.6 710.9 596.0 707.5C597.4 704.1 598.6 699.0 600.0 696.5C601.4 694.0 604.9 690.4 606.7 688.9C608.5 687.4 611.8 685.5 613.5 685.5C615.2 685.5 617.8 688.7 619.4 688.9C621.0 689.1 624.0 687.9 625.3 687.2C626.6 686.5 627.9 683.0 629.0 683.5C630.1 684.0 632.3 688.5 633.7 690.6C635.1 692.7 638.2 696.8 639.6 699.0C641.0 701.2 642.7 705.7 644.2 707.4C645.7 709.1 648.6 710.7 650.6 711.6C652.6 712.5 656.8 713.6 659.0 713.8C661.2 714.0 665.5 713.6 667.4 713.3C669.3 713.0 671.7 712.6 673.3 711.6C674.9 710.6 677.7 707.3 679.2 705.7C680.7 704.1 683.0 700.9 684.3 699.8C685.6 698.7 687.5 697.9 689.3 697.6C691.1 697.3 695.2 697.5 697.8 697.6C700.4 697.7 706.8 697.1 708.7 698.1C710.6 699.1 711.0 703.0 712.1 704.9C713.2 706.8 715.4 710.8 717.0 712.7C718.6 714.6 722.3 717.9 724.0 719.1C725.7 720.3 727.9 722.6 729.6 721.9C731.3 721.2 734.7 717.1 736.6 714.2C738.5 711.3 741.6 703.5 743.7 700.1C745.8 696.7 750.0 691.6 752.1 688.9C754.2 686.2 756.9 682.2 759.1 679.8C761.3 677.4 766.5 673.1 768.9 670.7C771.3 668.3 775.2 664.2 777.3 661.6C779.4 659.0 782.6 653.4 784.3 651.0C786.0 648.6 788.4 643.3 789.7 643.7C791.0 644.1 793.0 650.4 794.2 653.8C795.4 657.2 797.3 664.6 798.4 669.3C799.5 674.0 801.3 684.0 802.6 688.9C803.9 693.8 806.5 701.2 808.2 705.7C809.9 710.2 813.5 719.0 815.2 722.6C816.9 726.2 819.5 730.9 820.8 732.4C822.1 733.9 823.7 734.1 825.0 733.5C826.3 732.9 828.9 730.4 830.6 728.2C832.3 726.0 835.7 720.2 837.6 717.0C839.5 713.8 842.7 708.4 844.6 704.3C846.5 700.2 849.8 691.1 851.7 686.1C853.6 681.1 857.0 671.6 858.7 666.5C860.4 661.4 863.0 653.1 864.3 648.2C865.6 643.3 867.4 635.6 868.5 630.0C869.6 624.4 871.3 617.5 872.8 606.3C874.3 595.1 878.3 560.8 879.8 546.0C881.3 531.2 883.4 506.5 884.4 495.0C885.4 483.5 886.4 469.4 887.0 460.0C887.6 450.6 888.3 432.8 889.1 424.4C889.9 416.0 891.9 402.2 893.3 397.0C894.7 391.8 898.2 385.1 899.6 385.4C901.0 385.7 902.6 395.3 903.8 399.1C905.0 402.9 906.8 409.4 908.4 413.7C910.0 418.0 913.5 427.7 915.8 431.6C918.1 435.5 923.2 440.2 925.3 443.2C927.4 446.2 930.1 449.9 931.6 453.8C933.1 457.7 935.2 468.6 936.9 472.7C938.6 476.8 942.5 482.0 944.3 484.3C946.1 486.6 948.5 489.2 950.6 490.0C952.7 490.8 958.1 491.9 960.1 490.6C962.1 489.3 963.8 481.1 965.3 480.5C966.8 479.9 969.7 484.5 971.7 486.4C973.7 488.3 977.6 493.1 980.1 494.9C982.6 496.7 987.8 498.6 990.6 500.1C993.4 501.6 998.7 503.3 1001.2 506.4C1003.7 509.5 1007.6 518.0 1009.6 523.3C1011.6 528.6 1014.6 541.1 1016.3 546.4C1018.0 551.7 1020.6 559.9 1022.6 563.3C1024.6 566.7 1029.1 569.2 1031.1 571.7C1033.1 574.2 1035.6 579.2 1037.4 582.3C1039.2 585.4 1043.0 592.4 1044.8 594.9C1046.6 597.4 1049.6 601.2 1051.1 601.2C1052.6 601.2 1054.9 597.4 1056.4 594.9C1057.9 592.4 1060.7 585.2 1062.7 582.3C1064.7 579.4 1068.9 574.6 1071.1 572.8C1073.3 571.0 1077.2 570.0 1079.5 568.6C1081.8 567.2 1086.0 563.3 1088.0 562.3C1090.0 561.3 1092.6 561.0 1094.3 560.8C1096.0 560.6 1099.1 559.9 1100.6 560.8C1102.1 561.7 1104.8 564.9 1105.9 567.5C1107.0 570.1 1108.0 577.1 1109.0 580.2C1110.0 583.3 1112.2 588.7 1113.3 590.7C1114.4 592.7 1116.5 594.8 1117.5 595.3C1118.5 595.8 1119.2 594.1 1120.6 594.5C1122.0 594.9 1125.9 597.3 1128.0 598.1C1130.1 598.9 1134.6 600.5 1136.4 600.6C1138.2 600.7 1140.0 600.7 1141.7 599.1C1143.4 597.5 1147.3 590.3 1149.1 588.6C1150.9 586.9 1153.9 587.3 1155.4 586.5C1156.9 585.7 1159.0 585.1 1160.7 582.3C1162.4 579.5 1166.3 569.9 1168.1 565.4C1169.9 560.9 1172.7 553.7 1174.4 548.6C1176.1 543.5 1179.0 534.0 1180.7 527.5C1182.4 521.0 1185.5 506.4 1187.0 500.1C1188.5 493.8 1190.9 485.1 1192.1 480.0C1193.3 474.9 1194.7 467.5 1195.8 462.2C1196.9 456.9 1199.2 444.3 1200.5 440.6C1201.8 436.9 1204.6 434.2 1205.8 434.3C1207.0 434.4 1208.2 438.2 1209.5 441.1C1210.8 444.0 1214.3 452.0 1215.8 455.9C1217.3 459.8 1219.5 465.1 1221.1 470.0C1222.7 474.9 1226.2 487.0 1228.0 493.0C1229.8 499.0 1232.8 510.1 1234.6 515.0C1236.4 519.9 1240.0 526.5 1241.7 530.0C1243.4 533.5 1246.6 539.5 1247.3 541.0" fill="none" stroke="#1b8fa3" stroke-width="1" stroke-linejoin="round"/>
<path d="M169.5 27.0C170.8 28.8 174.5 35.4 177.4 38.0C180.3 40.6 183.5 42.0 186.9 42.8C190.3 43.6 194.6 42.9 198.0 42.8C201.4 42.7 204.6 41.2 207.5 42.0C210.4 42.8 213.0 45.6 215.4 47.5C217.8 49.4 219.9 53.1 221.7 53.6C223.5 54.1 224.8 52.0 226.4 50.7C228.0 49.4 228.8 47.2 231.2 46.0C233.6 44.8 238.1 43.4 240.7 43.6C243.3 43.9 244.4 43.7 247.0 47.5C249.6 51.3 253.6 59.4 256.5 66.5C259.4 73.6 261.8 82.0 264.4 90.2C267.0 98.4 269.8 107.2 272.3 115.5C274.8 123.8 277.0 132.6 279.3 140.0C281.6 147.4 283.8 153.7 286.0 160.2C288.2 166.7 290.2 172.6 292.7 178.8C295.2 185.0 298.7 191.8 301.2 197.3C303.7 202.8 305.6 206.3 307.9 211.7C310.1 217.0 312.4 222.7 314.7 229.4C316.9 236.1 319.7 245.2 321.4 252.1C323.1 259.0 323.3 263.3 325.0 271.0C326.7 278.7 328.9 286.9 331.5 298.5C334.1 310.1 337.8 328.1 340.8 340.8C343.8 353.5 346.5 363.9 349.3 374.6C352.1 385.4 354.5 395.7 357.6 405.3C360.7 414.9 364.3 424.2 367.7 432.3C371.1 440.4 374.4 447.0 377.8 454.2C381.2 461.4 385.2 470.8 387.9 475.3C390.6 479.8 392.0 478.8 393.8 481.2C395.6 483.6 396.4 486.0 398.5 490.0C400.6 494.0 403.7 501.0 406.1 505.2C408.5 509.4 410.6 512.8 412.9 515.3C415.1 517.8 417.1 518.0 419.6 520.4C422.1 522.8 425.2 527.2 428.0 529.6C430.8 532.0 433.7 533.2 436.5 534.7C439.3 536.2 442.1 536.9 444.9 538.9C447.7 540.9 450.8 544.5 453.3 546.5C455.8 548.5 458.1 548.5 460.1 550.7C462.1 553.0 462.3 555.6 465.3 560.0C468.3 564.4 473.7 570.9 477.9 576.9C482.1 582.9 486.7 589.5 490.6 595.8C494.5 602.1 497.2 608.3 501.1 614.8C505.0 621.3 509.9 629.3 513.8 634.8C517.7 640.2 520.8 644.3 524.3 647.5C527.8 650.7 531.3 652.1 534.8 653.8C538.3 655.4 542.2 656.3 545.4 657.4C548.6 658.5 551.3 659.0 553.8 660.1C556.2 661.2 558.0 663.3 560.1 663.7C562.2 664.1 563.6 663.9 566.4 662.6C569.2 661.3 573.5 658.2 577.0 655.9C580.5 653.5 584.0 651.0 587.5 648.5C591.0 646.0 594.6 643.2 598.1 641.1C601.6 639.0 605.8 637.0 608.6 635.9C611.4 634.8 612.9 634.8 614.9 634.8C616.9 634.8 618.1 635.9 620.5 635.9C622.9 635.9 626.2 634.0 629.0 634.5C631.8 635.0 634.2 637.5 637.4 639.1C640.5 640.8 644.4 643.2 647.9 644.4C651.4 645.5 655.0 645.6 658.5 646.0C662.0 646.4 665.5 645.4 669.0 646.5C672.5 647.6 676.3 650.9 679.5 652.8C682.7 654.7 685.2 657.4 688.0 658.1C690.8 658.8 693.6 657.4 696.4 657.0C699.2 656.6 702.7 655.8 704.8 655.5C706.9 655.2 706.6 656.4 709.1 655.1C711.6 653.8 716.1 650.5 719.6 647.5C723.1 644.5 726.6 640.9 730.1 637.0C733.6 633.1 737.2 628.9 740.7 624.3C744.2 619.7 748.1 613.5 751.2 609.6C754.4 605.7 756.8 603.0 759.6 600.7C762.4 598.4 764.9 597.5 768.1 595.9C771.3 594.3 775.1 592.4 778.6 591.0C782.1 589.6 786.5 590.3 789.3 587.8C792.0 585.3 792.8 582.4 795.1 576.2C797.4 570.0 800.3 559.5 803.2 550.6C806.1 541.7 809.2 532.1 812.5 522.8C815.8 513.5 819.4 502.7 822.9 495.0C826.4 487.3 830.2 482.4 833.4 476.4C836.6 470.4 839.2 464.9 842.0 459.0C844.8 453.1 847.8 445.4 850.0 441.0C852.2 436.6 853.4 437.0 855.5 432.5C857.6 428.0 860.1 421.5 862.7 413.8C865.3 406.1 868.4 395.5 871.2 386.4C874.0 377.3 876.8 367.9 879.6 359.0C882.4 350.1 885.5 339.0 888.0 332.7C890.5 326.4 892.5 323.6 894.3 321.1C896.1 318.7 897.2 317.6 899.0 318.0C900.8 318.4 901.8 320.2 904.9 323.2C908.0 326.2 913.3 331.8 917.5 335.9C921.7 339.9 926.3 344.5 930.2 347.5C934.1 350.5 937.6 351.3 940.7 353.8C943.8 356.3 945.5 360.0 949.0 362.3C952.5 364.6 957.9 364.2 961.7 367.5C965.5 370.8 967.9 376.5 971.7 382.1C975.5 387.7 979.4 393.9 984.3 401.1C989.2 408.3 996.3 419.0 1001.2 425.3C1006.1 431.6 1009.6 434.1 1013.8 439.0C1018.0 443.9 1022.5 450.6 1026.4 454.8C1030.3 459.0 1033.5 461.1 1037.0 464.3C1040.5 467.5 1044.3 470.6 1047.5 473.8C1050.7 477.0 1053.1 479.3 1055.9 483.3C1058.7 487.3 1061.9 494.3 1064.4 498.0C1066.9 501.7 1067.8 502.8 1070.7 505.4C1073.6 508.0 1078.5 511.8 1081.7 513.8C1084.9 515.8 1086.9 516.7 1090.1 517.4C1093.2 518.1 1097.8 518.6 1100.6 518.2C1103.4 517.8 1104.4 517.5 1106.9 514.8C1109.4 512.1 1112.6 506.2 1115.4 502.2C1118.2 498.2 1121.0 494.1 1123.8 490.6C1126.6 487.1 1129.4 485.7 1132.2 481.1C1135.0 476.5 1137.9 469.2 1140.7 463.2C1143.5 457.2 1146.3 450.8 1149.1 445.3C1151.9 439.8 1153.9 437.1 1157.4 430.0C1160.9 422.9 1165.9 410.1 1170.1 402.8C1174.3 395.5 1178.5 392.0 1182.7 386.0C1186.9 380.0 1192.2 371.2 1195.4 367.0C1198.6 362.8 1200.0 362.0 1201.7 360.7C1203.5 359.4 1204.2 358.6 1205.9 359.0C1207.7 359.4 1209.0 360.1 1212.2 362.8C1215.4 365.5 1220.7 371.2 1224.9 375.4C1229.1 379.6 1233.7 383.4 1237.5 388.0C1241.3 392.6 1245.9 400.7 1247.6 403.2" fill="none" stroke="#2b2be8" stroke-width="1.05" stroke-linejoin="round"/>
<g shape-rendering="crispEdges">
<rect x="10" y="20" width="1" height="32" fill="#e8281c"/>
<rect x="9" y="20" width="3" height="32" fill="#e8281c"/>
<rect x="86" y="20" width="1" height="24" fill="#e8281c"/>
<rect x="85" y="20" width="3" height="5" fill="#e8281c"/>
<rect x="91" y="20" width="1" height="150" fill="#e8281c"/>
<rect x="90" y="20" width="3" height="123" fill="#e8281c"/>
<rect x="96" y="97" width="1" height="181" fill="#24c336"/>
<rect x="95" y="110" width="3" height="33" fill="#24c336"/>
<rect x="101" y="20" width="1" height="128" fill="#e8281c"/>
<rect x="100" y="110" width="3" height="14" fill="#e8281c"/>
<rect x="106" y="71" width="1" height="90" fill="#24c336"/>
<rect x="105" y="101" width="3" height="23" fill="#24c336"/>
<rect x="111" y="48" width="1" height="84" fill="#24c336"/>
<rect x="110" y="69" width="3" height="33" fill="#24c336"/>
<rect x="116" y="20" width="1" height="79" fill="#24c336"/>
<rect x="115" y="28" width="3" height="42" fill="#24c336"/>
<rect x="121" y="20" width="1" height="66" fill="#e8281c"/>
<rect x="120" y="20" width="3" height="47" fill="#e8281c"/>
<rect x="127" y="54" width="1" height="90" fill="#e8281c"/>
<rect x="126" y="66" width="3" height="59" fill="#e8281c"/>
<rect x="132" y="78" width="1" height="54" fill="#24c336"/>
<rect x="131" y="100" width="3" height="26" fill="#24c336"/>
<rect x="137" y="36" width="1" height="68" fill="#24c336"/>
<rect x="136" y="54" width="3" height="46" fill="#24c336"/>
<rect x="142" y="32" width="1" height="74" fill="#e8281c"/>
<rect x="141" y="54" width="3" height="46" fill="#e8281c"/>
<rect x="147" y="46" width="1" height="76" fill="#24c336"/>
<rect x="146" y="70" width="3" height="30" fill="#24c336"/>
<rect x="152" y="20" width="1" height="88" fill="#24c336"/>
<rect x="151" y="20" width="3" height="50" fill="#24c336"/>
<rect x="157" y="20" width="1" height="19" fill="#e8281c"/>
<rect x="156" y="20" width="3" height="5" fill="#e8281c"/>
<rect x="162" y="20" width="1" height="13" fill="#24c336"/>
<rect x="161" y="20" width="3" height="5" fill="#24c336"/>
<rect x="187" y="20" width="1" height="50" fill="#e8281c"/>
<rect x="186" y="20" width="3" height="44" fill="#e8281c"/>
<rect x="192" y="47" width="1" height="97" fill="#e8281c"/>
<rect x="191" y="63" width="3" height="41" fill="#e8281c"/>
<rect x="197" y="89" width="1" height="75" fill="#e8281c"/>
<rect x="196" y="103" width="3" height="43" fill="#e8281c"/>
<rect x="202" y="98" width="1" height="48" fill="#24c336"/>
<rect x="201" y="112" width="3" height="34" fill="#24c336"/>
<rect x="207" y="69" width="1" height="52" fill="#24c336"/>
<rect x="206" y="93" width="3" height="20" fill="#24c336"/>
<rect x="212" y="91" width="1" height="29" fill="#e8281c"/>
<rect x="211" y="93" width="3" height="14" fill="#e8281c"/>
<rect x="217" y="79" width="1" height="138" fill="#e8281c"/>
<rect x="216" y="106" width="3" height="47" fill="#e8281c"/>
<rect x="222" y="113" width="1" height="42" fill="#24c336"/>
<rect x="221" y="121" width="3" height="32" fill="#24c336"/>
<rect x="227" y="31" width="1" height="121" fill="#24c336"/>
<rect x="226" y="48" width="3" height="73" fill="#24c336"/>
<rect x="232" y="29" width="1" height="67" fill="#e8281c"/>
<rect x="231" y="39" width="3" height="49" fill="#e8281c"/>
<rect x="237" y="20" width="1" height="68" fill="#24c336"/>
<rect x="236" y="20" width="3" height="68" fill="#24c336"/>
<rect x="242" y="20" width="1" height="68" fill="#e8281c"/>
<rect x="241" y="20" width="3" height="52" fill="#e8281c"/>
<rect x="247" y="44" width="1" height="193" fill="#e8281c"/>
<rect x="246" y="72" width="3" height="123" fill="#e8281c"/>
<rect x="252" y="114" width="1" height="127" fill="#e8281c"/>
<rect x="251" y="194" width="3" height="14" fill="#e8281c"/>
<rect x="257" y="177" width="1" height="85" fill="#24c336"/>
<rect x="256" y="201" width="3" height="6" fill="#24c336"/>
<rect x="262" y="187" width="1" height="60" fill="#e8281c"/>
<rect x="261" y="201" width="3" height="40" fill="#e8281c"/>
<rect x="267" y="218" width="1" height="64" fill="#24c336"/>
<rect x="266" y="231" width="3" height="10" fill="#24c336"/>
<rect x="272" y="187" width="1" height="82" fill="#e8281c"/>
<rect x="271" y="231" width="3" height="20" fill="#e8281c"/>
<rect x="277" y="227" width="1" height="41" fill="#24c336"/>
<rect x="276" y="245" width="3" height="6" fill="#24c336"/>
<rect x="282" y="237" width="1" height="64" fill="#e8281c"/>
<rect x="281" y="245" width="3" height="53" fill="#e8281c"/>
<rect x="287" y="296" width="1" height="100" fill="#e8281c"/>
<rect x="286" y="298" width="3" height="47" fill="#e8281c"/>
<rect x="292" y="332" width="1" height="104" fill="#e8281c"/>
<rect x="291" y="345" width="3" height="86" fill="#e8281c"/>
<rect x="297" y="333" width="1" height="101" fill="#24c336"/>
<rect x="296" y="381" width="3" height="50" fill="#24c336"/>
<rect x="302" y="325" width="1" height="65" fill="#24c336"/>
<rect x="301" y="354" width="3" height="27" fill="#24c336"/>
<rect x="307" y="259" width="1" height="102" fill="#24c336"/>
<rect x="306" y="306" width="3" height="48" fill="#24c336"/>
<rect x="312" y="284" width="1" height="114" fill="#e8281c"/>
<rect x="311" y="306" width="3" height="83" fill="#e8281c"/>
<rect x="317" y="375" width="1" height="113" fill="#e8281c"/>
<rect x="316" y="389" width="3" height="77" fill="#e8281c"/>
<rect x="322" y="430" width="1" height="181" fill="#24c336"/>
<rect x="321" y="453" width="3" height="13" fill="#24c336"/>
<rect x="327" y="448" width="1" height="73" fill="#e8281c"/>
<rect x="326" y="453" width="3" height="43" fill="#e8281c"/>
<rect x="332" y="481" width="1" height="37" fill="#e8281c"/>
<rect x="331" y="496" width="3" height="9" fill="#e8281c"/>
<rect x="337" y="484" width="1" height="66" fill="#e8281c"/>
<rect x="336" y="505" width="3" height="41" fill="#e8281c"/>
<rect x="343" y="513" width="1" height="71" fill="#e8281c"/>
<rect x="342" y="545" width="3" height="16" fill="#e8281c"/>
<rect x="348" y="520" width="1" height="42" fill="#24c336"/>
<rect x="347" y="527" width="3" height="34" fill="#24c336"/>
<rect x="353" y="512" width="1" height="48" fill="#e8281c"/>
<rect x="352" y="527" width="3" height="2" fill="#e8281c"/>
<rect x="358" y="506" width="1" height="42" fill="#24c336"/>
<rect x="357" y="525" width="3" height="4" fill="#24c336"/>
<rect x="363" y="473" width="1" height="63" fill="#e8281c"/>
<rect x="362" y="525" width="3" height="1" fill="#e8281c"/>
<rect x="368" y="491" width="1" height="62" fill="#24c336"/>
<rect x="367" y="500" width="3" height="27" fill="#24c336"/>
<rect x="373" y="492" width="1" height="40" fill="#e8281c"/>
<rect x="372" y="500" width="3" height="21" fill="#e8281c"/>
<rect x="378" y="466" width="1" height="58" fill="#24c336"/>
<rect x="377" y="489" width="3" height="32" fill="#24c336"/>
<rect x="383" y="485" width="1" height="29" fill="#e8281c"/>
<rect x="382" y="489" width="3" height="20" fill="#e8281c"/>
<rect x="388" y="502" width="1" height="25" fill="#e8281c"/>
<rect x="387" y="508" width="3" height="13" fill="#e8281c"/>
<rect x="393" y="470" width="1" height="60" fill="#24c336"/>
<rect x="392" y="498" width="3" height="23" fill="#24c336"/>
<rect x="398" y="494" width="1" height="66" fill="#e8281c"/>
<rect x="397" y="498" width="3" height="45" fill="#e8281c"/>
<rect x="403" y="527" width="1" height="23" fill="#24c336"/>
<rect x="402" y="537" width="3" height="6" fill="#24c336"/>
<rect x="408" y="519" width="1" height="21" fill="#24c336"/>
<rect x="407" y="523" width="3" height="15" fill="#24c336"/>
<rect x="413" y="497" width="1" height="57" fill="#e8281c"/>
<rect x="412" y="523" width="3" height="28" fill="#e8281c"/>
<rect x="418" y="518" width="1" height="34" fill="#24c336"/>
<rect x="417" y="524" width="3" height="27" fill="#24c336"/>
<rect x="423" y="514" width="1" height="31" fill="#e8281c"/>
<rect x="422" y="524" width="3" height="15" fill="#e8281c"/>
<rect x="428" y="534" width="1" height="93" fill="#e8281c"/>
<rect x="427" y="538" width="3" height="76" fill="#e8281c"/>
<rect x="433" y="585" width="1" height="58" fill="#24c336"/>
<rect x="432" y="594" width="3" height="20" fill="#24c336"/>
<rect x="438" y="581" width="1" height="35" fill="#24c336"/>
<rect x="437" y="590" width="3" height="5" fill="#24c336"/>
<rect x="443" y="576" width="1" height="28" fill="#e8281c"/>
<rect x="442" y="590" width="3" height="7" fill="#e8281c"/>
<rect x="448" y="594" width="1" height="51" fill="#e8281c"/>
<rect x="447" y="596" width="3" height="16" fill="#e8281c"/>
<rect x="453" y="606" width="1" height="33" fill="#e8281c"/>
<rect x="452" y="611" width="3" height="18" fill="#e8281c"/>
<rect x="458" y="558" width="1" height="72" fill="#24c336"/>
<rect x="457" y="563" width="3" height="66" fill="#24c336"/>
<rect x="463" y="561" width="1" height="93" fill="#e8281c"/>
<rect x="462" y="563" width="3" height="85" fill="#e8281c"/>
<rect x="468" y="644" width="1" height="52" fill="#e8281c"/>
<rect x="467" y="648" width="3" height="12" fill="#e8281c"/>
<rect x="473" y="640" width="1" height="28" fill="#24c336"/>
<rect x="472" y="654" width="3" height="6" fill="#24c336"/>
<rect x="478" y="641" width="1" height="30" fill="#e8281c"/>
<rect x="477" y="655" width="3" height="13" fill="#e8281c"/>
<rect x="483" y="640" width="1" height="48" fill="#24c336"/>
<rect x="482" y="659" width="3" height="9" fill="#24c336"/>
<rect x="488" y="656" width="1" height="24" fill="#e8281c"/>
<rect x="487" y="659" width="3" height="17" fill="#e8281c"/>
<rect x="493" y="672" width="1" height="52" fill="#e8281c"/>
<rect x="492" y="675" width="3" height="43" fill="#e8281c"/>
<rect x="498" y="677" width="1" height="52" fill="#e8281c"/>
<rect x="497" y="716" width="3" height="9" fill="#e8281c"/>
<rect x="503" y="684" width="1" height="64" fill="#24c336"/>
<rect x="502" y="693" width="3" height="32" fill="#24c336"/>
<rect x="508" y="660" width="1" height="43" fill="#24c336"/>
<rect x="507" y="661" width="3" height="33" fill="#24c336"/>
<rect x="513" y="635" width="1" height="50" fill="#e8281c"/>
<rect x="512" y="661" width="3" height="14" fill="#e8281c"/>
<rect x="518" y="641" width="1" height="35" fill="#24c336"/>
<rect x="517" y="656" width="3" height="19" fill="#24c336"/>
<rect x="523" y="639" width="1" height="22" fill="#24c336"/>
<rect x="522" y="652" width="3" height="5" fill="#24c336"/>
<rect x="528" y="649" width="1" height="38" fill="#e8281c"/>
<rect x="527" y="652" width="3" height="29" fill="#e8281c"/>
<rect x="533" y="627" width="1" height="55" fill="#24c336"/>
<rect x="532" y="639" width="3" height="42" fill="#24c336"/>
<rect x="538" y="637" width="1" height="36" fill="#e8281c"/>
<rect x="537" y="639" width="3" height="6" fill="#e8281c"/>
<rect x="543" y="630" width="1" height="21" fill="#24c336"/>
<rect x="542" y="635" width="3" height="10" fill="#24c336"/>
<rect x="548" y="614" width="1" height="30" fill="#24c336"/>
<rect x="547" y="625" width="3" height="11" fill="#24c336"/>
<rect x="553" y="613" width="1" height="38" fill="#e8281c"/>
<rect x="552" y="625" width="3" height="23" fill="#e8281c"/>
<rect x="559" y="638" width="1" height="20" fill="#e8281c"/>
<rect x="558" y="648" width="3" height="8" fill="#e8281c"/>
<rect x="564" y="639" width="1" height="19" fill="#24c336"/>
<rect x="563" y="641" width="3" height="15" fill="#24c336"/>
<rect x="569" y="598" width="1" height="50" fill="#24c336"/>
<rect x="568" y="607" width="3" height="35" fill="#24c336"/>
<rect x="574" y="595" width="1" height="21" fill="#24c336"/>
<rect x="573" y="606" width="3" height="2" fill="#24c336"/>
<rect x="579" y="542" width="1" height="67" fill="#24c336"/>
<rect x="578" y="580" width="3" height="27" fill="#24c336"/>
<rect x="584" y="572" width="1" height="25" fill="#e8281c"/>
<rect x="583" y="580" width="3" height="5" fill="#e8281c"/>
<rect x="589" y="580" width="1" height="48" fill="#e8281c"/>
<rect x="588" y="584" width="3" height="35" fill="#e8281c"/>
<rect x="594" y="613" width="1" height="43" fill="#e8281c"/>
<rect x="593" y="618" width="3" height="30" fill="#e8281c"/>
<rect x="599" y="641" width="1" height="30" fill="#e8281c"/>
<rect x="598" y="647" width="3" height="16" fill="#e8281c"/>
<rect x="604" y="640" width="1" height="31" fill="#24c336"/>
<rect x="603" y="648" width="3" height="15" fill="#24c336"/>
<rect x="609" y="614" width="1" height="35" fill="#24c336"/>
<rect x="608" y="621" width="3" height="27" fill="#24c336"/>
<rect x="614" y="603" width="1" height="59" fill="#e8281c"/>
<rect x="613" y="621" width="3" height="35" fill="#e8281c"/>
<rect x="619" y="643" width="1" height="47" fill="#e8281c"/>
<rect x="618" y="655" width="3" height="19" fill="#e8281c"/>
<rect x="624" y="643" width="1" height="36" fill="#24c336"/>
<rect x="623" y="645" width="3" height="29" fill="#24c336"/>
<rect x="629" y="639" width="1" height="23" fill="#e8281c"/>
<rect x="628" y="645" width="3" height="11" fill="#e8281c"/>
<rect x="634" y="652" width="1" height="50" fill="#e8281c"/>
<rect x="633" y="655" width="3" height="39" fill="#e8281c"/>
<rect x="639" y="669" width="1" height="56" fill="#24c336"/>
<rect x="638" y="687" width="3" height="7" fill="#24c336"/>
<rect x="644" y="677" width="1" height="36" fill="#e8281c"/>
<rect x="643" y="686" width="3" height="22" fill="#e8281c"/>
<rect x="649" y="651" width="1" height="70" fill="#24c336"/>
<rect x="648" y="660" width="3" height="49" fill="#24c336"/>
<rect x="654" y="659" width="1" height="27" fill="#e8281c"/>
<rect x="653" y="660" width="3" height="14" fill="#e8281c"/>
<rect x="659" y="656" width="1" height="21" fill="#24c336"/>
<rect x="658" y="662" width="3" height="12" fill="#24c336"/>
<rect x="664" y="629" width="1" height="39" fill="#24c336"/>
<rect x="663" y="636" width="3" height="26" fill="#24c336"/>
<rect x="669" y="619" width="1" height="29" fill="#e8281c"/>
<rect x="668" y="636" width="3" height="9" fill="#e8281c"/>
<rect x="674" y="620" width="1" height="26" fill="#24c336"/>
<rect x="673" y="641" width="3" height="4" fill="#24c336"/>
<rect x="679" y="632" width="1" height="31" fill="#e8281c"/>
<rect x="678" y="641" width="3" height="18" fill="#e8281c"/>
<rect x="684" y="642" width="1" height="20" fill="#24c336"/>
<rect x="683" y="652" width="3" height="7" fill="#24c336"/>
<rect x="689" y="636" width="1" height="21" fill="#24c336"/>
<rect x="688" y="646" width="3" height="7" fill="#24c336"/>
<rect x="694" y="640" width="1" height="16" fill="#24c336"/>
<rect x="693" y="641" width="3" height="5" fill="#24c336"/>
<rect x="699" y="627" width="1" height="24" fill="#24c336"/>
<rect x="698" y="632" width="3" height="10" fill="#24c336"/>
<rect x="704" y="623" width="1" height="21" fill="#24c336"/>
<rect x="703" y="631" width="3" height="2" fill="#24c336"/>
<rect x="709" y="604" width="1" height="28" fill="#24c336"/>
<rect x="708" y="620" width="3" height="12" fill="#24c336"/>
<rect x="714" y="561" width="1" height="65" fill="#24c336"/>
<rect x="713" y="565" width="3" height="55" fill="#24c336"/>
<rect x="719" y="540" width="1" height="34" fill="#24c336"/>
<rect x="718" y="563" width="3" height="2" fill="#24c336"/>
<rect x="724" y="561" width="1" height="29" fill="#e8281c"/>
<rect x="723" y="563" width="3" height="7" fill="#e8281c"/>
<rect x="729" y="541" width="1" height="38" fill="#24c336"/>
<rect x="728" y="553" width="3" height="15" fill="#24c336"/>
<rect x="734" y="515" width="1" height="40" fill="#24c336"/>
<rect x="733" y="547" width="3" height="7" fill="#24c336"/>
<rect x="739" y="545" width="1" height="26" fill="#e8281c"/>
<rect x="738" y="547" width="3" height="23" fill="#e8281c"/>
<rect x="744" y="545" width="1" height="34" fill="#24c336"/>
<rect x="743" y="558" width="3" height="12" fill="#24c336"/>
<rect x="749" y="548" width="1" height="23" fill="#e8281c"/>
<rect x="748" y="558" width="3" height="6" fill="#e8281c"/>
<rect x="754" y="549" width="1" height="36" fill="#24c336"/>
<rect x="753" y="561" width="3" height="3" fill="#24c336"/>
<rect x="759" y="551" width="1" height="22" fill="#e8281c"/>
<rect x="758" y="561" width="3" height="10" fill="#e8281c"/>
<rect x="764" y="560" width="1" height="20" fill="#e8281c"/>
<rect x="763" y="570" width="3" height="3" fill="#e8281c"/>
<rect x="769" y="570" width="1" height="35" fill="#e8281c"/>
<rect x="768" y="572" width="3" height="26" fill="#e8281c"/>
<rect x="774" y="593" width="1" height="15" fill="#e8281c"/>
<rect x="773" y="598" width="3" height="6" fill="#e8281c"/>
<rect x="780" y="590" width="1" height="29" fill="#e8281c"/>
<rect x="779" y="603" width="3" height="8" fill="#e8281c"/>
<rect x="785" y="605" width="1" height="24" fill="#24c336"/>
<rect x="784" y="608" width="3" height="3" fill="#24c336"/>
<rect x="790" y="591" width="1" height="19" fill="#24c336"/>
<rect x="789" y="594" width="3" height="15" fill="#24c336"/>
<rect x="795" y="412" width="1" height="185" fill="#24c336"/>
<rect x="794" y="447" width="3" height="148" fill="#24c336"/>
<rect x="800" y="300" width="1" height="172" fill="#24c336"/>
<rect x="799" y="383" width="3" height="65" fill="#24c336"/>
<rect x="805" y="296" width="1" height="97" fill="#24c336"/>
<rect x="804" y="315" width="3" height="69" fill="#24c336"/>
<rect x="810" y="286" width="1" height="87" fill="#e8281c"/>
<rect x="809" y="315" width="3" height="5" fill="#e8281c"/>
<rect x="815" y="227" width="1" height="134" fill="#24c336"/>
<rect x="814" y="317" width="3" height="2" fill="#24c336"/>
<rect x="820" y="243" width="1" height="121" fill="#24c336"/>
<rect x="819" y="277" width="3" height="42" fill="#24c336"/>
<rect x="825" y="272" width="1" height="55" fill="#e8281c"/>
<rect x="824" y="277" width="3" height="28" fill="#e8281c"/>
<rect x="830" y="291" width="1" height="77" fill="#e8281c"/>
<rect x="829" y="304" width="3" height="46" fill="#e8281c"/>
<rect x="835" y="310" width="1" height="66" fill="#e8281c"/>
<rect x="834" y="348" width="3" height="24" fill="#e8281c"/>
<rect x="840" y="363" width="1" height="41" fill="#e8281c"/>
<rect x="839" y="371" width="3" height="23" fill="#e8281c"/>
<rect x="845" y="286" width="1" height="109" fill="#24c336"/>
<rect x="844" y="307" width="3" height="87" fill="#24c336"/>
<rect x="850" y="289" width="1" height="88" fill="#e8281c"/>
<rect x="849" y="307" width="3" height="30" fill="#e8281c"/>
<rect x="855" y="317" width="1" height="54" fill="#e8281c"/>
<rect x="854" y="336" width="3" height="7" fill="#e8281c"/>
<rect x="860" y="266" width="1" height="95" fill="#24c336"/>
<rect x="859" y="318" width="3" height="25" fill="#24c336"/>
<rect x="865" y="218" width="1" height="100" fill="#24c336"/>
<rect x="864" y="221" width="3" height="97" fill="#24c336"/>
<rect x="870" y="180" width="1" height="142" fill="#e8281c"/>
<rect x="869" y="221" width="3" height="90" fill="#e8281c"/>
<rect x="875" y="289" width="1" height="32" fill="#e8281c"/>
<rect x="874" y="310" width="3" height="2" fill="#e8281c"/>
<rect x="880" y="299" width="1" height="71" fill="#e8281c"/>
<rect x="879" y="311" width="3" height="10" fill="#e8281c"/>
<rect x="885" y="276" width="1" height="50" fill="#24c336"/>
<rect x="884" y="307" width="3" height="14" fill="#24c336"/>
<rect x="890" y="282" width="1" height="51" fill="#24c336"/>
<rect x="889" y="305" width="3" height="2" fill="#24c336"/>
<rect x="895" y="289" width="1" height="43" fill="#24c336"/>
<rect x="894" y="299" width="3" height="7" fill="#24c336"/>
<rect x="900" y="241" width="1" height="91" fill="#e8281c"/>
<rect x="899" y="299" width="3" height="30" fill="#e8281c"/>
<rect x="905" y="322" width="1" height="107" fill="#e8281c"/>
<rect x="904" y="328" width="3" height="94" fill="#e8281c"/>
<rect x="910" y="409" width="1" height="46" fill="#24c336"/>
<rect x="909" y="420" width="3" height="3" fill="#24c336"/>
<rect x="915" y="400" width="1" height="39" fill="#24c336"/>
<rect x="914" y="412" width="3" height="9" fill="#24c336"/>
<rect x="920" y="380" width="1" height="53" fill="#24c336"/>
<rect x="919" y="384" width="3" height="29" fill="#24c336"/>
<rect x="925" y="352" width="1" height="42" fill="#e8281c"/>
<rect x="924" y="384" width="3" height="6" fill="#e8281c"/>
<rect x="930" y="370" width="1" height="45" fill="#e8281c"/>
<rect x="929" y="389" width="3" height="23" fill="#e8281c"/>
<rect x="935" y="398" width="1" height="88" fill="#e8281c"/>
<rect x="934" y="411" width="3" height="62" fill="#e8281c"/>
<rect x="940" y="427" width="1" height="50" fill="#24c336"/>
<rect x="939" y="451" width="3" height="22" fill="#24c336"/>
<rect x="945" y="421" width="1" height="35" fill="#24c336"/>
<rect x="944" y="427" width="3" height="25" fill="#24c336"/>
<rect x="950" y="398" width="1" height="41" fill="#24c336"/>
<rect x="949" y="419" width="3" height="8" fill="#24c336"/>
<rect x="955" y="364" width="1" height="69" fill="#24c336"/>
<rect x="954" y="368" width="3" height="52" fill="#24c336"/>
<rect x="960" y="318" width="1" height="62" fill="#24c336"/>
<rect x="959" y="345" width="3" height="23" fill="#24c336"/>
<rect x="965" y="328" width="1" height="64" fill="#e8281c"/>
<rect x="964" y="344" width="3" height="34" fill="#e8281c"/>
<rect x="970" y="371" width="1" height="63" fill="#e8281c"/>
<rect x="969" y="377" width="3" height="50" fill="#e8281c"/>
<rect x="975" y="425" width="1" height="56" fill="#e8281c"/>
<rect x="974" y="427" width="3" height="16" fill="#e8281c"/>
<rect x="980" y="437" width="1" height="31" fill="#e8281c"/>
<rect x="979" y="442" width="3" height="15" fill="#e8281c"/>
<rect x="985" y="437" width="1" height="27" fill="#24c336"/>
<rect x="984" y="448" width="3" height="9" fill="#24c336"/>
<rect x="990" y="424" width="1" height="53" fill="#e8281c"/>
<rect x="989" y="448" width="3" height="27" fill="#e8281c"/>
<rect x="996" y="465" width="1" height="58" fill="#e8281c"/>
<rect x="995" y="474" width="3" height="24" fill="#e8281c"/>
<rect x="1001" y="484" width="1" height="34" fill="#24c336"/>
<rect x="1000" y="487" width="3" height="11" fill="#24c336"/>
<rect x="1006" y="479" width="1" height="18" fill="#e8281c"/>
<rect x="1005" y="487" width="3" height="3" fill="#e8281c"/>
<rect x="1011" y="478" width="1" height="54" fill="#e8281c"/>
<rect x="1010" y="489" width="3" height="25" fill="#e8281c"/>
<rect x="1016" y="499" width="1" height="62" fill="#e8281c"/>
<rect x="1015" y="513" width="3" height="30" fill="#e8281c"/>
<rect x="1021" y="532" width="1" height="59" fill="#e8281c"/>
<rect x="1020" y="542" width="3" height="20" fill="#e8281c"/>
<rect x="1026" y="504" width="1" height="68" fill="#24c336"/>
<rect x="1025" y="510" width="3" height="52" fill="#24c336"/>
<rect x="1031" y="490" width="1" height="27" fill="#24c336"/>
<rect x="1030" y="502" width="3" height="9" fill="#24c336"/>
<rect x="1036" y="496" width="1" height="41" fill="#e8281c"/>
<rect x="1035" y="502" width="3" height="31" fill="#e8281c"/>
<rect x="1041" y="518" width="1" height="32" fill="#e8281c"/>
<rect x="1040" y="532" width="3" height="17" fill="#e8281c"/>
<rect x="1046" y="536" width="1" height="24" fill="#24c336"/>
<rect x="1045" y="547" width="3" height="1" fill="#24c336"/>
<rect x="1051" y="524" width="1" height="25" fill="#24c336"/>
<rect x="1050" y="528" width="3" height="20" fill="#24c336"/>
<rect x="1056" y="480" width="1" height="54" fill="#24c336"/>
<rect x="1055" y="483" width="3" height="45" fill="#24c336"/>
<rect x="1061" y="482" width="1" height="44" fill="#e8281c"/>
<rect x="1060" y="483" width="3" height="36" fill="#e8281c"/>
<rect x="1066" y="513" width="1" height="35" fill="#e8281c"/>
<rect x="1065" y="518" width="3" height="25" fill="#e8281c"/>
<rect x="1071" y="485" width="1" height="62" fill="#24c336"/>
<rect x="1070" y="501" width="3" height="43" fill="#24c336"/>
<rect x="1076" y="464" width="1" height="44" fill="#24c336"/>
<rect x="1075" y="498" width="3" height="4" fill="#24c336"/>
<rect x="1081" y="491" width="1" height="43" fill="#e8281c"/>
<rect x="1080" y="498" width="3" height="26" fill="#e8281c"/>
<rect x="1086" y="509" width="1" height="21" fill="#24c336"/>
<rect x="1085" y="520" width="3" height="4" fill="#24c336"/>
<rect x="1091" y="488" width="1" height="38" fill="#24c336"/>
<rect x="1090" y="503" width="3" height="18" fill="#24c336"/>
<rect x="1096" y="491" width="1" height="29" fill="#e8281c"/>
<rect x="1095" y="503" width="3" height="7" fill="#e8281c"/>
<rect x="1101" y="489" width="1" height="28" fill="#24c336"/>
<rect x="1100" y="495" width="3" height="15" fill="#24c336"/>
<rect x="1106" y="435" width="1" height="70" fill="#24c336"/>
<rect x="1105" y="451" width="3" height="45" fill="#24c336"/>
<rect x="1111" y="374" width="1" height="85" fill="#24c336"/>
<rect x="1110" y="381" width="3" height="71" fill="#24c336"/>
<rect x="1116" y="336" width="1" height="64" fill="#e8281c"/>
<rect x="1115" y="381" width="3" height="3" fill="#e8281c"/>
<rect x="1121" y="372" width="1" height="38" fill="#e8281c"/>
<rect x="1120" y="383" width="3" height="7" fill="#e8281c"/>
<rect x="1126" y="366" width="1" height="32" fill="#24c336"/>
<rect x="1125" y="387" width="3" height="3" fill="#24c336"/>
<rect x="1131" y="331" width="1" height="70" fill="#e8281c"/>
<rect x="1130" y="387" width="3" height="4" fill="#e8281c"/>
<rect x="1136" y="354" width="1" height="66" fill="#24c336"/>
<rect x="1135" y="358" width="3" height="33" fill="#24c336"/>
<rect x="1141" y="293" width="1" height="83" fill="#24c336"/>
<rect x="1140" y="323" width="3" height="38" fill="#24c336"/>
<rect x="1146" y="306" width="1" height="54" fill="#e8281c"/>
<rect x="1145" y="322" width="3" height="10" fill="#e8281c"/>
<rect x="1151" y="281" width="1" height="87" fill="#e8281c"/>
<rect x="1150" y="331" width="3" height="21" fill="#e8281c"/>
<rect x="1156" y="322" width="1" height="46" fill="#24c336"/>
<rect x="1155" y="328" width="3" height="24" fill="#24c336"/>
<rect x="1161" y="266" width="1" height="68" fill="#24c336"/>
<rect x="1160" y="297" width="3" height="32" fill="#24c336"/>
<rect x="1166" y="270" width="1" height="48" fill="#24c336"/>
<rect x="1165" y="293" width="3" height="5" fill="#24c336"/>
<rect x="1171" y="259" width="1" height="67" fill="#24c336"/>
<rect x="1170" y="290" width="3" height="4" fill="#24c336"/>
<rect x="1176" y="289" width="1" height="103" fill="#e8281c"/>
<rect x="1175" y="290" width="3" height="74" fill="#e8281c"/>
<rect x="1181" y="348" width="1" height="61" fill="#e8281c"/>
<rect x="1180" y="364" width="3" height="19" fill="#e8281c"/>
<rect x="1186" y="372" width="1" height="44" fill="#24c336"/>
<rect x="1185" y="373" width="3" height="10" fill="#24c336"/>
<rect x="1191" y="363" width="1" height="22" fill="#e8281c"/>
<rect x="1190" y="373" width="3" height="9" fill="#e8281c"/>
<rect x="1196" y="352" width="1" height="30" fill="#24c336"/>
<rect x="1195" y="363" width="3" height="19" fill="#24c336"/>
<rect x="1201" y="343" width="1" height="69" fill="#e8281c"/>
<rect x="1200" y="363" width="3" height="45" fill="#e8281c"/>
<rect x="1206" y="395" width="1" height="46" fill="#e8281c"/>
<rect x="1205" y="407" width="3" height="20" fill="#e8281c"/>
<rect x="1211" y="422" width="1" height="47" fill="#e8281c"/>
<rect x="1210" y="426" width="3" height="11" fill="#e8281c"/>
<rect x="1217" y="420" width="1" height="50" fill="#e8281c"/>
<rect x="1216" y="436" width="3" height="30" fill="#e8281c"/>
<rect x="1222" y="462" width="1" height="41" fill="#e8281c"/>
<rect x="1221" y="465" width="3" height="21" fill="#e8281c"/>
<rect x="1227" y="472" width="1" height="40" fill="#e8281c"/>
<rect x="1226" y="485" width="3" height="14" fill="#e8281c"/>
<rect x="1232" y="476" width="1" height="29" fill="#24c336"/>
<rect x="1231" y="481" width="3" height="18" fill="#24c336"/>
<rect x="1237" y="462" width="1" height="26" fill="#24c336"/>
<rect x="1236" y="466" width="3" height="16" fill="#24c336"/>
<rect x="1242" y="464" width="1" height="42" fill="#e8281c"/>
<rect x="1241" y="466" width="3" height="29" fill="#e8281c"/>
<rect x="1247" y="473" width="1" height="34" fill="#24c336"/>
<rect x="1246" y="481" width="3" height="14" fill="#24c336"/>
</g>
<rect x="39" y="361" width="1210" height="2.4" fill="#e8241c"/>
<g shape-rendering="crispEdges">
<rect x="39" y="25" width="63" height="6" fill="#f4e814" fill-opacity="0.25"/>
<rect x="39" y="32" width="64" height="6" fill="#f4e814" fill-opacity="0.25"/>
<rect x="39" y="39" width="68" height="6" fill="#f4e814" fill-opacity="0.25"/>
<rect x="39" y="46" width="73" height="6" fill="#f4e814" fill-opacity="0.25"/>
<rect x="39" y="54" width="81" height="6" fill="#f4e814" fill-opacity="0.25"/>
<rect x="39" y="61" width="86" height="6" fill="#f4e814" fill-opacity="0.25"/>
<rect x="39" y="68" width="87" height="6" fill="#f4e814" fill-opacity="0.25"/>
<rect x="39" y="75" width="96" height="6" fill="#f4e814" fill-opacity="0.25"/>
<rect x="39" y="82" width="104" height="6" fill="#f4e814" fill-opacity="0.25"/>
<rect x="39" y="89" width="107" height="6" fill="#f4e814" fill-opacity="0.25"/>
<rect x="39" y="96" width="117" height="6" fill="#f4e814" fill-opacity="0.25"/>
<rect x="39" y="103" width="110" height="6" fill="#f4e814" fill-opacity="0.25"/>
<rect x="39" y="110" width="114" height="6" fill="#f4e814" fill-opacity="0.25"/>
<rect x="39" y="117" width="115" height="6" fill="#f4e814" fill-opacity="0.25"/>
<rect x="39" y="124" width="100" height="6" fill="#f4e814" fill-opacity="0.25"/>
<rect x="39" y="132" width="80" height="6" fill="#f4e814" fill-opacity="0.25"/>
<rect x="39" y="139" width="62" height="6" fill="#f4e814" fill-opacity="0.25"/>
<rect x="39" y="146" width="48" height="6" fill="#f4e814" fill-opacity="0.25"/>
<rect x="39" y="153" width="39" height="6" fill="#f4e814" fill-opacity="0.25"/>
<rect x="39" y="160" width="36" height="6" fill="#f4e814" fill-opacity="0.25"/>
<rect x="39" y="167" width="33" height="6" fill="#f4e814" fill-opacity="0.25"/>
<rect x="39" y="174" width="34" height="6" fill="#f4e814" fill-opacity="0.25"/>
<rect x="39" y="181" width="36" height="6" fill="#f4e814" fill-opacity="0.25"/>
<rect x="39" y="188" width="46" height="6" fill="#f4e814" fill-opacity="0.25"/>
<rect x="39" y="195" width="50" height="6" fill="#f4e814" fill-opacity="0.25"/>
<rect x="39" y="202" width="60" height="6" fill="#f4e814" fill-opacity="0.25"/>
<rect x="39" y="209" width="59" height="6" fill="#f4e814" fill-opacity="0.25"/>
<rect x="39" y="217" width="51" height="6" fill="#f4e814" fill-opacity="0.25"/>
<rect x="39" y="224" width="54" height="6" fill="#f4e814" fill-opacity="0.25"/>
<rect x="39" y="231" width="52" height="6" fill="#f4e814" fill-opacity="0.25"/>
<rect x="39" y="238" width="63" height="6" fill="#f4e814" fill-opacity="0.25"/>
<rect x="39" y="245" width="72" height="6" fill="#f4e814" fill-opacity="0.25"/>
<rect x="39" y="252" width="74" height="6" fill="#f4e814" fill-opacity="0.25"/>
<rect x="39" y="259" width="81" height="6" fill="#f4e814" fill-opacity="0.25"/>
<rect x="39" y="266" width="96" height="6" fill="#f4e814" fill-opacity="0.25"/>
<rect x="39" y="273" width="61" height="7" fill="#b9b040" fill-opacity="0.75"/>
<rect x="100" y="273" width="69" height="7" fill="#f5e315" fill-opacity="0.75"/>
<rect x="39" y="281" width="87" height="6" fill="#b9b040" fill-opacity="0.75"/>
<rect x="126" y="281" width="65" height="6" fill="#f5e315" fill-opacity="0.75"/>
<rect x="39" y="288" width="116" height="6" fill="#b9b040" fill-opacity="0.75"/>
<rect x="155" y="288" width="95" height="6" fill="#f5e315" fill-opacity="0.75"/>
<rect x="39" y="295" width="147" height="6" fill="#b9b040" fill-opacity="0.75"/>
<rect x="186" y="295" width="138" height="6" fill="#f5e315" fill-opacity="0.75"/>
<rect x="39" y="302" width="152" height="6" fill="#b9b040" fill-opacity="0.75"/>
<rect x="191" y="302" width="180" height="6" fill="#f5e315" fill-opacity="0.75"/>
<rect x="39" y="309" width="171" height="6" fill="#b9b040" fill-opacity="0.75"/>
<rect x="210" y="309" width="174" height="6" fill="#f5e315" fill-opacity="0.75"/>
<rect x="39" y="316" width="156" height="6" fill="#b9b040" fill-opacity="0.75"/>
<rect x="195" y="316" width="138" height="6" fill="#f5e315" fill-opacity="0.75"/>
<rect x="39" y="323" width="141" height="6" fill="#b9b040" fill-opacity="0.75"/>
<rect x="180" y="323" width="134" height="6" fill="#f5e315" fill-opacity="0.75"/>
<rect x="39" y="331" width="138" height="6" fill="#b9b040" fill-opacity="0.75"/>
<rect x="177" y="331" width="122" height="6" fill="#f5e315" fill-opacity="0.75"/>
<rect x="39" y="338" width="137" height="6" fill="#b9b040" fill-opacity="0.75"/>
<rect x="176" y="338" width="142" height="6" fill="#f5e315" fill-opacity="0.75"/>
<rect x="39" y="345" width="137" height="6" fill="#b9b040" fill-opacity="0.75"/>
<rect x="176" y="345" width="176" height="6" fill="#f5e315" fill-opacity="0.75"/>
<rect x="39" y="352" width="154" height="6" fill="#b9b040" fill-opacity="0.75"/>
<rect x="193" y="352" width="195" height="6" fill="#f5e315" fill-opacity="0.75"/>
<rect x="39" y="359" width="160" height="6" fill="#b9b040" fill-opacity="0.75"/>
<rect x="199" y="359" width="201" height="6" fill="#f5e315" fill-opacity="0.75"/>
<rect x="39" y="366" width="161" height="6" fill="#b9b040" fill-opacity="0.75"/>
<rect x="200" y="366" width="195" height="6" fill="#f5e315" fill-opacity="0.75"/>
<rect x="39" y="373" width="142" height="6" fill="#b9b040" fill-opacity="0.75"/>
<rect x="181" y="373" width="173" height="6" fill="#f5e315" fill-opacity="0.75"/>
<rect x="39" y="380" width="127" height="6" fill="#b9b040" fill-opacity="0.75"/>
<rect x="166" y="380" width="168" height="6" fill="#f5e315" fill-opacity="0.75"/>
<rect x="39" y="387" width="118" height="6" fill="#b9b040" fill-opacity="0.75"/>
<rect x="157" y="387" width="145" height="6" fill="#f5e315" fill-opacity="0.75"/>
<rect x="39" y="394" width="96" height="6" fill="#b9b040" fill-opacity="0.75"/>
<rect x="135" y="394" width="92" height="6" fill="#f5e315" fill-opacity="0.75"/>
<rect x="39" y="401" width="85" height="6" fill="#b9b040" fill-opacity="0.75"/>
<rect x="124" y="401" width="87" height="6" fill="#f5e315" fill-opacity="0.75"/>
<rect x="39" y="409" width="71" height="6" fill="#b9b040" fill-opacity="0.75"/>
<rect x="110" y="409" width="85" height="6" fill="#f5e315" fill-opacity="0.75"/>
<rect x="39" y="416" width="80" height="6" fill="#b9b040" fill-opacity="0.75"/>
<rect x="119" y="416" width="72" height="6" fill="#f5e315" fill-opacity="0.75"/>
<rect x="39" y="423" width="93" height="6" fill="#b9b040" fill-opacity="0.75"/>
<rect x="132" y="423" width="116" height="6" fill="#f5e315" fill-opacity="0.75"/>
<rect x="39" y="430" width="88" height="6" fill="#b9b040" fill-opacity="0.75"/>
<rect x="127" y="430" width="108" height="6" fill="#f5e315" fill-opacity="0.75"/>
<rect x="39" y="437" width="91" height="6" fill="#b9b040" fill-opacity="0.75"/>
<rect x="130" y="437" width="78" height="6" fill="#f5e315" fill-opacity="0.75"/>
<rect x="39" y="444" width="96" height="6" fill="#b9b040" fill-opacity="0.75"/>
<rect x="135" y="444" width="107" height="6" fill="#f5e315" fill-opacity="0.75"/>
<rect x="39" y="451" width="60" height="6" fill="#b9b040" fill-opacity="0.75"/>
<rect x="99" y="451" width="82" height="6" fill="#f5e315" fill-opacity="0.75"/>
<rect x="39" y="458" width="54" height="6" fill="#b9b040" fill-opacity="0.75"/>
<rect x="93" y="458" width="60" height="6" fill="#f5e315" fill-opacity="0.75"/>
<rect x="39" y="465" width="76" height="6" fill="#b9b040" fill-opacity="0.75"/>
<rect x="115" y="465" width="82" height="6" fill="#f5e315" fill-opacity="0.75"/>
<rect x="39" y="472" width="104" height="6" fill="#b9b040" fill-opacity="0.75"/>
<rect x="143" y="472" width="93" height="6" fill="#f5e315" fill-opacity="0.75"/>
<rect x="39" y="479" width="129" height="6" fill="#b9b040" fill-opacity="0.75"/>
<rect x="168" y="479" width="97" height="6" fill="#f5e315" fill-opacity="0.75"/>
<rect x="39" y="486" width="163" height="6" fill="#b9b040" fill-opacity="0.75"/>
<rect x="202" y="486" width="92" height="6" fill="#f5e315" fill-opacity="0.75"/>
<rect x="39" y="494" width="163" height="6" fill="#b9b040" fill-opacity="0.75"/>
<rect x="202" y="494" width="153" height="6" fill="#f5e315" fill-opacity="0.75"/>
<rect x="39" y="501" width="153" height="6" fill="#b9b040" fill-opacity="0.75"/>
<rect x="192" y="501" width="184" height="6" fill="#f5e315" fill-opacity="0.75"/>
<rect x="39" y="508" width="134" height="6" fill="#b9b040" fill-opacity="0.75"/>
<rect x="173" y="508" width="159" height="6" fill="#f5e315" fill-opacity="0.75"/>
<rect x="39" y="515" width="122" height="6" fill="#b9b040" fill-opacity="0.75"/>
<rect x="161" y="515" width="152" height="6" fill="#f5e315" fill-opacity="0.75"/>
<rect x="39" y="522" width="125" height="6" fill="#b9b040" fill-opacity="0.75"/>
<rect x="164" y="522" width="153" height="6" fill="#f5e315" fill-opacity="0.75"/>
<rect x="39" y="529" width="106" height="6" fill="#b9b040" fill-opacity="0.75"/>
<rect x="145" y="529" width="124" height="6" fill="#f5e315" fill-opacity="0.75"/>
<rect x="39" y="536" width="100" height="6" fill="#b9b040" fill-opacity="0.75"/>
<rect x="139" y="536" width="96" height="6" fill="#f5e315" fill-opacity="0.75"/>
<rect x="39" y="543" width="108" height="6" fill="#b9b040" fill-opacity="0.75"/>
<rect x="147" y="543" width="96" height="6" fill="#f5e315" fill-opacity="0.75"/>
<rect x="39" y="550" width="82" height="6" fill="#b9b040" fill-opacity="0.75"/>
<rect x="121" y="550" width="88" height="6" fill="#f5e315" fill-opacity="0.75"/>
<rect x="39" y="557" width="85" height="6" fill="#b9b040" fill-opacity="0.75"/>
<rect x="124" y="557" width="101" height="6" fill="#f5e315" fill-opacity="0.75"/>
<rect x="39" y="564" width="67" height="6" fill="#b9b040" fill-opacity="0.75"/>
<rect x="106" y="564" width="96" height="6" fill="#f5e315" fill-opacity="0.75"/>
<rect x="39" y="572" width="53" height="6" fill="#b9b040" fill-opacity="0.75"/>
<rect x="92" y="572" width="74" height="6" fill="#f5e315" fill-opacity="0.75"/>
<rect x="39" y="579" width="48" height="6" fill="#b9b040" fill-opacity="0.75"/>
<rect x="87" y="579" width="68" height="6" fill="#f5e315" fill-opacity="0.75"/>
<rect x="39" y="586" width="48" height="6" fill="#b9b040" fill-opacity="0.75"/>
<rect x="87" y="586" width="51" height="6" fill="#f5e315" fill-opacity="0.75"/>
<rect x="39" y="593" width="54" height="6" fill="#b9b040" fill-opacity="0.75"/>
<rect x="93" y="593" width="56" height="6" fill="#f5e315" fill-opacity="0.75"/>
<rect x="39" y="600" width="63" height="6" fill="#b9b040" fill-opacity="0.75"/>
<rect x="102" y="600" width="50" height="6" fill="#f5e315" fill-opacity="0.75"/>
<rect x="39" y="607" width="78" height="6" fill="#b9b040" fill-opacity="0.75"/>
<rect x="117" y="607" width="69" height="6" fill="#f5e315" fill-opacity="0.75"/>
<rect x="39" y="614" width="68" height="6" fill="#b9b040" fill-opacity="0.75"/>
<rect x="107" y="614" width="81" height="6" fill="#f5e315" fill-opacity="0.75"/>
<rect x="39" y="621" width="82" height="6" fill="#b9b040" fill-opacity="0.75"/>
<rect x="121" y="621" width="67" height="6" fill="#f5e315" fill-opacity="0.75"/>
<rect x="39" y="628" width="80" height="6" fill="#b9b040" fill-opacity="0.75"/>
<rect x="119" y="628" width="75" height="6" fill="#f5e315" fill-opacity="0.75"/>
<rect x="39" y="635" width="102" height="6" fill="#b9b040" fill-opacity="0.75"/>
<rect x="141" y="635" width="114" height="6" fill="#f5e315" fill-opacity="0.75"/>
<rect x="39" y="642" width="145" height="6" fill="#b9b040" fill-opacity="0.75"/>
<rect x="184" y="642" width="146" height="6" fill="#f5e315" fill-opacity="0.75"/>
<rect x="39" y="650" width="145" height="6" fill="#b9b040" fill-opacity="0.75"/>
<rect x="184" y="650" width="143" height="6" fill="#f5e315" fill-opacity="0.75"/>
<rect x="39" y="657" width="113" height="6" fill="#b9b040" fill-opacity="0.75"/>
<rect x="152" y="657" width="109" height="6" fill="#f5e315" fill-opacity="0.75"/>
<rect x="39" y="664" width="166" height="6" fill="#f4e814" fill-opacity="0.25"/>
<rect x="39" y="671" width="130" height="6" fill="#f4e814" fill-opacity="0.25"/>
<rect x="39" y="678" width="98" height="6" fill="#f4e814" fill-opacity="0.25"/>
<rect x="39" y="685" width="96" height="6" fill="#f4e814" fill-opacity="0.25"/>
<rect x="39" y="692" width="82" height="6" fill="#f4e814" fill-opacity="0.25"/>
<rect x="39" y="699" width="67" height="6" fill="#f4e814" fill-opacity="0.25"/>
<rect x="39" y="706" width="57" height="6" fill="#f4e814" fill-opacity="0.25"/>
<rect x="39" y="713" width="40" height="6" fill="#f4e814" fill-opacity="0.25"/>
<rect x="39" y="720" width="24" height="6" fill="#f4e814" fill-opacity="0.25"/>
<rect x="39" y="728" width="6" height="6" fill="#f4e814" fill-opacity="0.25"/>
<rect x="39" y="735" width="4" height="6" fill="#f4e814" fill-opacity="0.25"/>
<rect x="39" y="742" width="4" height="6" fill="#f4e814" fill-opacity="0.25"/>
</g>
<line x1="39" y1="273" x2="1248" y2="273" stroke="#f0301c" stroke-width="2" stroke-dasharray="2 4"/>
<line x1="39" y1="663" x2="1248" y2="663" stroke="#f0301c" stroke-width="2" stroke-dasharray="2 4"/>
</g>
<line x1="870" y1="179" x2="1609.5" y2="179" stroke="#b4b4b8" stroke-width="2" stroke-dasharray="2 4"/>
<line x1="503" y1="748" x2="1609.5" y2="748" stroke="#b4b4b8" stroke-width="2" stroke-dasharray="2 4"/>
<line x1="643.5" y1="727.3" x2="1609.5" y2="380.4" stroke="#f7e81c" stroke-width="2.2" stroke-linecap="round"/>
<path d="M1261.6 463.5C1261.9 465.1 1262.7 470.6 1263.5 473.3C1264.3 476.0 1265.4 482.1 1266.7 479.8C1268.0 477.6 1270.4 460.5 1271.3 459.8C1272.2 459.1 1271.8 470.6 1272.0 475.6C1272.2 480.6 1272.1 490.0 1272.7 490.0C1273.3 490.0 1274.5 479.4 1275.5 475.6C1276.5 471.9 1277.8 467.9 1279.0 467.5C1280.2 467.1 1281.6 471.8 1282.5 473.3C1283.4 474.9 1283.3 478.7 1284.3 476.8C1285.3 474.9 1287.0 465.3 1288.3 461.7C1289.5 458.1 1290.4 454.4 1291.8 455.2C1293.2 456.0 1294.9 462.3 1296.4 466.3C1297.9 470.3 1299.8 481.4 1300.6 479.1C1301.4 476.8 1301.2 462.3 1301.5 452.4C1301.8 442.5 1302.0 428.5 1302.2 419.9C1302.4 411.3 1302.1 401.7 1302.9 400.9C1303.7 400.1 1305.6 411.4 1306.8 415.3C1308.0 419.2 1309.1 426.4 1309.9 424.1C1310.7 421.8 1311.0 409.1 1311.5 401.4C1312.0 393.7 1312.0 382.0 1312.6 377.7C1313.2 373.4 1313.8 374.3 1315.0 375.4C1316.2 376.4 1318.4 385.1 1319.6 384.0C1320.8 382.9 1321.3 376.8 1321.9 368.9C1322.5 361.0 1322.5 344.9 1323.1 336.4C1323.7 327.9 1324.8 322.5 1325.4 317.8C1326.1 313.1 1326.7 309.7 1327.0 308.1" fill="none" stroke="#f7e81c" stroke-width="2" stroke-linejoin="round" stroke-linecap="round"/>
<polyline points="1315,315.1 1327,307.6 1334.7,320.2" fill="none" stroke="#f7e81c" stroke-width="2" stroke-linejoin="round" stroke-linecap="round"/>
<text x="876" y="172.5" font-size="30" font-weight="700" font-style="italic" fill="#9598a1" textLength="81.3" lengthAdjust="spacingAndGlyphs">swing</text>
<text x="970.2" y="172.5" font-size="30" font-weight="700" font-style="italic" fill="#9598a1" textLength="62.3" lengthAdjust="spacingAndGlyphs">high</text>
<text x="464.4" y="263.3" font-size="30" font-weight="700" font-style="italic" fill="#8f929c" textLength="78.3" lengthAdjust="spacingAndGlyphs">value</text>
<text x="556.4" y="263.3" font-size="30" font-weight="700" font-style="italic" fill="#8f929c" textLength="65.3" lengthAdjust="spacingAndGlyphs">area</text>
<text x="634.7" y="263.3" font-size="30" font-weight="700" font-style="italic" fill="#8f929c" textLength="63.0" lengthAdjust="spacingAndGlyphs">high</text>
<text x="1020.9" y="349.8" font-size="30" font-weight="700" font-style="italic" fill="#9598a3" textLength="52.4" lengthAdjust="spacingAndGlyphs">poc</text>
<text x="1002.2" y="653.3" font-size="30" font-weight="700" font-style="italic" fill="#7b7b7b" textLength="79.7" lengthAdjust="spacingAndGlyphs">value</text>
<text x="1094.1" y="653.3" font-size="30" font-weight="700" font-style="italic" fill="#7b7b7b" textLength="66.1" lengthAdjust="spacingAndGlyphs">area</text>
<text x="1173.9" y="653.3" font-size="30" font-weight="700" font-style="italic" fill="#7b7b7b" textLength="52.4" lengthAdjust="spacingAndGlyphs">low</text>
<text x="508.2" y="781.4" font-size="30" font-weight="700" font-style="italic" fill="#9598a1" textLength="82.9" lengthAdjust="spacingAndGlyphs">swing</text>
<text x="604.3" y="781.4" font-size="30" font-weight="700" font-style="italic" fill="#9598a1" textLength="52.1" lengthAdjust="spacingAndGlyphs">low</text>
<text transform="translate(727,731.5) rotate(-19.5)" font-size="29.5" font-weight="700" fill="#f7e81c" fill-opacity="0.68" textLength="218" lengthAdjust="spacingAndGlyphs">dynamic support</text>
<line x1="870" y1="179" x2="1040" y2="179" stroke="#b4b4b8" stroke-width="2" stroke-dasharray="2 4"/>
<text x="18.2" y="46.2" font-size="13" fill="#9a9da8" fill-opacity="0.5" textLength="53.7" lengthAdjust="spacingAndGlyphs">PEPEUSDT</text>
<text x="76.4" y="46.2" font-size="13" fill="#9a9da8" fill-opacity="0.5" textLength="47.0" lengthAdjust="spacingAndGlyphs">Perpetual</text>
<text x="130.4" y="46.2" font-size="13" fill="#9a9da8" fill-opacity="0.5" textLength="26.6" lengthAdjust="spacingAndGlyphs">Swap</text>
<text x="161.3" y="46.2" font-size="13" fill="#9a9da8" fill-opacity="0.5" textLength="47.3" lengthAdjust="spacingAndGlyphs">Contract</text>
<text x="212.4" y="46.2" font-size="13" fill="#9a9da8" fill-opacity="0.5" textLength="3.0" lengthAdjust="spacingAndGlyphs">·</text>
<text x="220.9" y="46.2" font-size="13" fill="#9a9da8" fill-opacity="0.5" textLength="11.1" lengthAdjust="spacingAndGlyphs">1D</text>
<text x="238" y="46.2" font-size="13" fill="#9a9da8" fill-opacity="0.5" textLength="3.0" lengthAdjust="spacingAndGlyphs">·</text>
<text x="246.5" y="46.2" font-size="13" fill="#9a9da8" fill-opacity="0.5" textLength="21.7" lengthAdjust="spacingAndGlyphs">OKX</text>
<text x="275.2" y="46.2" font-size="13" fill="#25b840"  textLength="73.1" lengthAdjust="spacingAndGlyphs">+0.000000260</text>
<text x="352.6" y="46.2" font-size="13" fill="#25b840"  textLength="44.7" lengthAdjust="spacingAndGlyphs">(+2.55%)</text>
<circle cx="1247.5" cy="873.3" r="10" fill="#0f0f10" stroke="#b445c9" stroke-width="1.6"/>
<path d="M1250.2 866.5 L1243 874.6 L1247.3 874.6 L1244.6 880.4 L1252 872 L1247.7 872 Z" fill="#b445c9"/>
<circle cx="1254.4" cy="866.8" r="4.2" fill="#0f0f10"/><circle cx="1254.4" cy="866.8" r="2.9" fill="#f23645"/>
<rect x="1609.0" y="27.3" width="1" height="885.9000000000001" fill="#50535e"/>
<rect x="10.5" y="886.0" width="1689.8" height="1" fill="#50535e"/>
<text x="1618" y="98.2" font-size="12" fill="#60636e" textLength="67.2" lengthAdjust="spacingAndGlyphs">0.000018000</text>
<text x="1618" y="149.53000000000003" font-size="12" fill="#60636e" textLength="67.2" lengthAdjust="spacingAndGlyphs">0.000017000</text>
<text x="1618" y="200.86" font-size="12" fill="#60636e" textLength="67.2" lengthAdjust="spacingAndGlyphs">0.000016000</text>
<text x="1618" y="252.19000000000003" font-size="12" fill="#60636e" textLength="67.2" lengthAdjust="spacingAndGlyphs">0.000015000</text>
<text x="1618" y="303.52000000000004" font-size="12" fill="#60636e" textLength="67.2" lengthAdjust="spacingAndGlyphs">0.000014000</text>
<text x="1618" y="354.84999999999997" font-size="12" fill="#60636e" textLength="67.2" lengthAdjust="spacingAndGlyphs">0.000013000</text>
<text x="1618" y="406.18" font-size="12" fill="#60636e" textLength="67.2" lengthAdjust="spacingAndGlyphs">0.000012000</text>
<text x="1618" y="457.51000000000005" font-size="12" fill="#60636e" textLength="67.2" lengthAdjust="spacingAndGlyphs">0.000011000</text>
<text x="1618" y="508.84" font-size="12" fill="#60636e" textLength="67.2" lengthAdjust="spacingAndGlyphs">0.000010000</text>
<text x="1618" y="560.17" font-size="12" fill="#60636e" textLength="67.2" lengthAdjust="spacingAndGlyphs">0.000009000</text>
<text x="1618" y="611.4999999999999" font-size="12" fill="#60636e" textLength="67.2" lengthAdjust="spacingAndGlyphs">0.000008000</text>
<text x="1618" y="662.8299999999999" font-size="12" fill="#60636e" textLength="67.2" lengthAdjust="spacingAndGlyphs">0.000007000</text>
<text x="1618" y="714.16" font-size="12" fill="#60636e" textLength="67.2" lengthAdjust="spacingAndGlyphs">0.000006000</text>
<text x="1618" y="765.4899999999999" font-size="12" fill="#60636e" textLength="67.2" lengthAdjust="spacingAndGlyphs">0.000005000</text>
<text x="1618" y="816.8199999999999" font-size="12" fill="#60636e" textLength="67.2" lengthAdjust="spacingAndGlyphs">0.000004000</text>
<text x="1618" y="868.1499999999999" font-size="12" fill="#60636e" textLength="67.2" lengthAdjust="spacingAndGlyphs">0.000003000</text>
<rect x="1610" y="171" width="81" height="17.5" rx="1.5" fill="#8a8c94"/>
<text x="1618" y="184.2" font-size="12" font-weight="700" fill="#fff" textLength="68.5" lengthAdjust="spacingAndGlyphs">0.000016327</text>
<rect x="1610" y="740.3" width="81" height="16.5" rx="1.5" fill="#a3a6b3"/>
<text x="1618" y="752.7" font-size="12" fill="#15171e" textLength="67.2" lengthAdjust="spacingAndGlyphs">0.000005250</text>
<rect x="1610" y="473" width="81" height="31" rx="1.5" fill="#22b13c"/>
<text x="1618" y="486" font-size="12" font-weight="700" fill="#fff" textLength="68.5" lengthAdjust="spacingAndGlyphs">0.000010453</text>
<text x="1618" y="499.8" font-size="12" fill="#fff" textLength="46.5" lengthAdjust="spacingAndGlyphs">07:17:59</text>
<rect x="1613.5" y="31" width="83.5" height="26" rx="4" fill="#0d0d0e" stroke="#3c3f49" stroke-width="1"/>
<text x="1622" y="48.8" font-size="12" fill="#d6d8df" textLength="29.5" lengthAdjust="spacingAndGlyphs">USDT</text>
<text x="143.3" y="904" font-size="12" font-weight="700" fill="#60636e" textLength="27.3" lengthAdjust="spacingAndGlyphs">2025</text>
<text x="302.5" y="904" font-size="12" fill="#60636e" textLength="19.6" lengthAdjust="spacingAndGlyphs">Feb</text>
<text x="443.1" y="904" font-size="12" fill="#60636e" textLength="20" lengthAdjust="spacingAndGlyphs">Mar</text>
<text x="599.6" y="904" font-size="12" fill="#60636e" textLength="18.6" lengthAdjust="spacingAndGlyphs">Apr</text>
<text x="748.9" y="904" font-size="12" fill="#60636e" textLength="21.6" lengthAdjust="spacingAndGlyphs">May</text>
<text x="905.9" y="904" font-size="12" fill="#60636e" textLength="19" lengthAdjust="spacingAndGlyphs">Jun</text>
<text x="1058.7" y="904" font-size="12" fill="#60636e" textLength="15.2" lengthAdjust="spacingAndGlyphs">Jul</text>
<text x="1211.7" y="904" font-size="12" fill="#60636e" textLength="20.6" lengthAdjust="spacingAndGlyphs">Aug</text>
<text x="1368.0" y="904" font-size="12" fill="#60636e" textLength="19.6" lengthAdjust="spacingAndGlyphs">Sep</text>
<text x="1519.3" y="904" font-size="12" fill="#60636e" textLength="18.6" lengthAdjust="spacingAndGlyphs">Oct</text>
<text x="10.7" y="19.3" font-size="12" fill="#111"  textLength="125.3" lengthAdjust="spacingAndGlyphs">The_Alchemist_Trader_</text>
<text x="140.3" y="19.3" font-size="12" fill="#111"  textLength="40.6" lengthAdjust="spacingAndGlyphs">created</text>
<text x="185.1" y="19.3" font-size="12" fill="#111"  textLength="22.5" lengthAdjust="spacingAndGlyphs">with</text>
<text x="212.3" y="19.3" font-size="12" fill="#111"  textLength="94.0" lengthAdjust="spacingAndGlyphs">TradingView.com,</text>
<text x="310.8" y="19.3" font-size="12" fill="#111"  textLength="18.0" lengthAdjust="spacingAndGlyphs">Aug</text>
<text x="333.8" y="19.3" font-size="12" fill="#111"  textLength="15.4" lengthAdjust="spacingAndGlyphs">07,</text>
<text x="354.3" y="19.3" font-size="12" fill="#111"  textLength="24.4" lengthAdjust="spacingAndGlyphs">2025</text>
<text x="383.7" y="19.3" font-size="12" fill="#111"  textLength="28.1" lengthAdjust="spacingAndGlyphs">02:42</text>
<text x="417.1" y="19.3" font-size="12" fill="#111"  textLength="39.6" lengthAdjust="spacingAndGlyphs">UTC+10</text>
<path d="M10 926.3H17.9V935.6H14V929.8H10Z" fill="#141414"/><circle cx="21" cy="927.9" r="1.6" fill="#141414"/><path d="M24.9 926.3H29.3L26.3 935.6H21.7Z" fill="#141414"/>
<text x="33.3" y="935.7" font-size="12.5" fill="#1c1c1c" textLength="69.8" lengthAdjust="spacingAndGlyphs">TradingView</text>
</svg></body></html>
